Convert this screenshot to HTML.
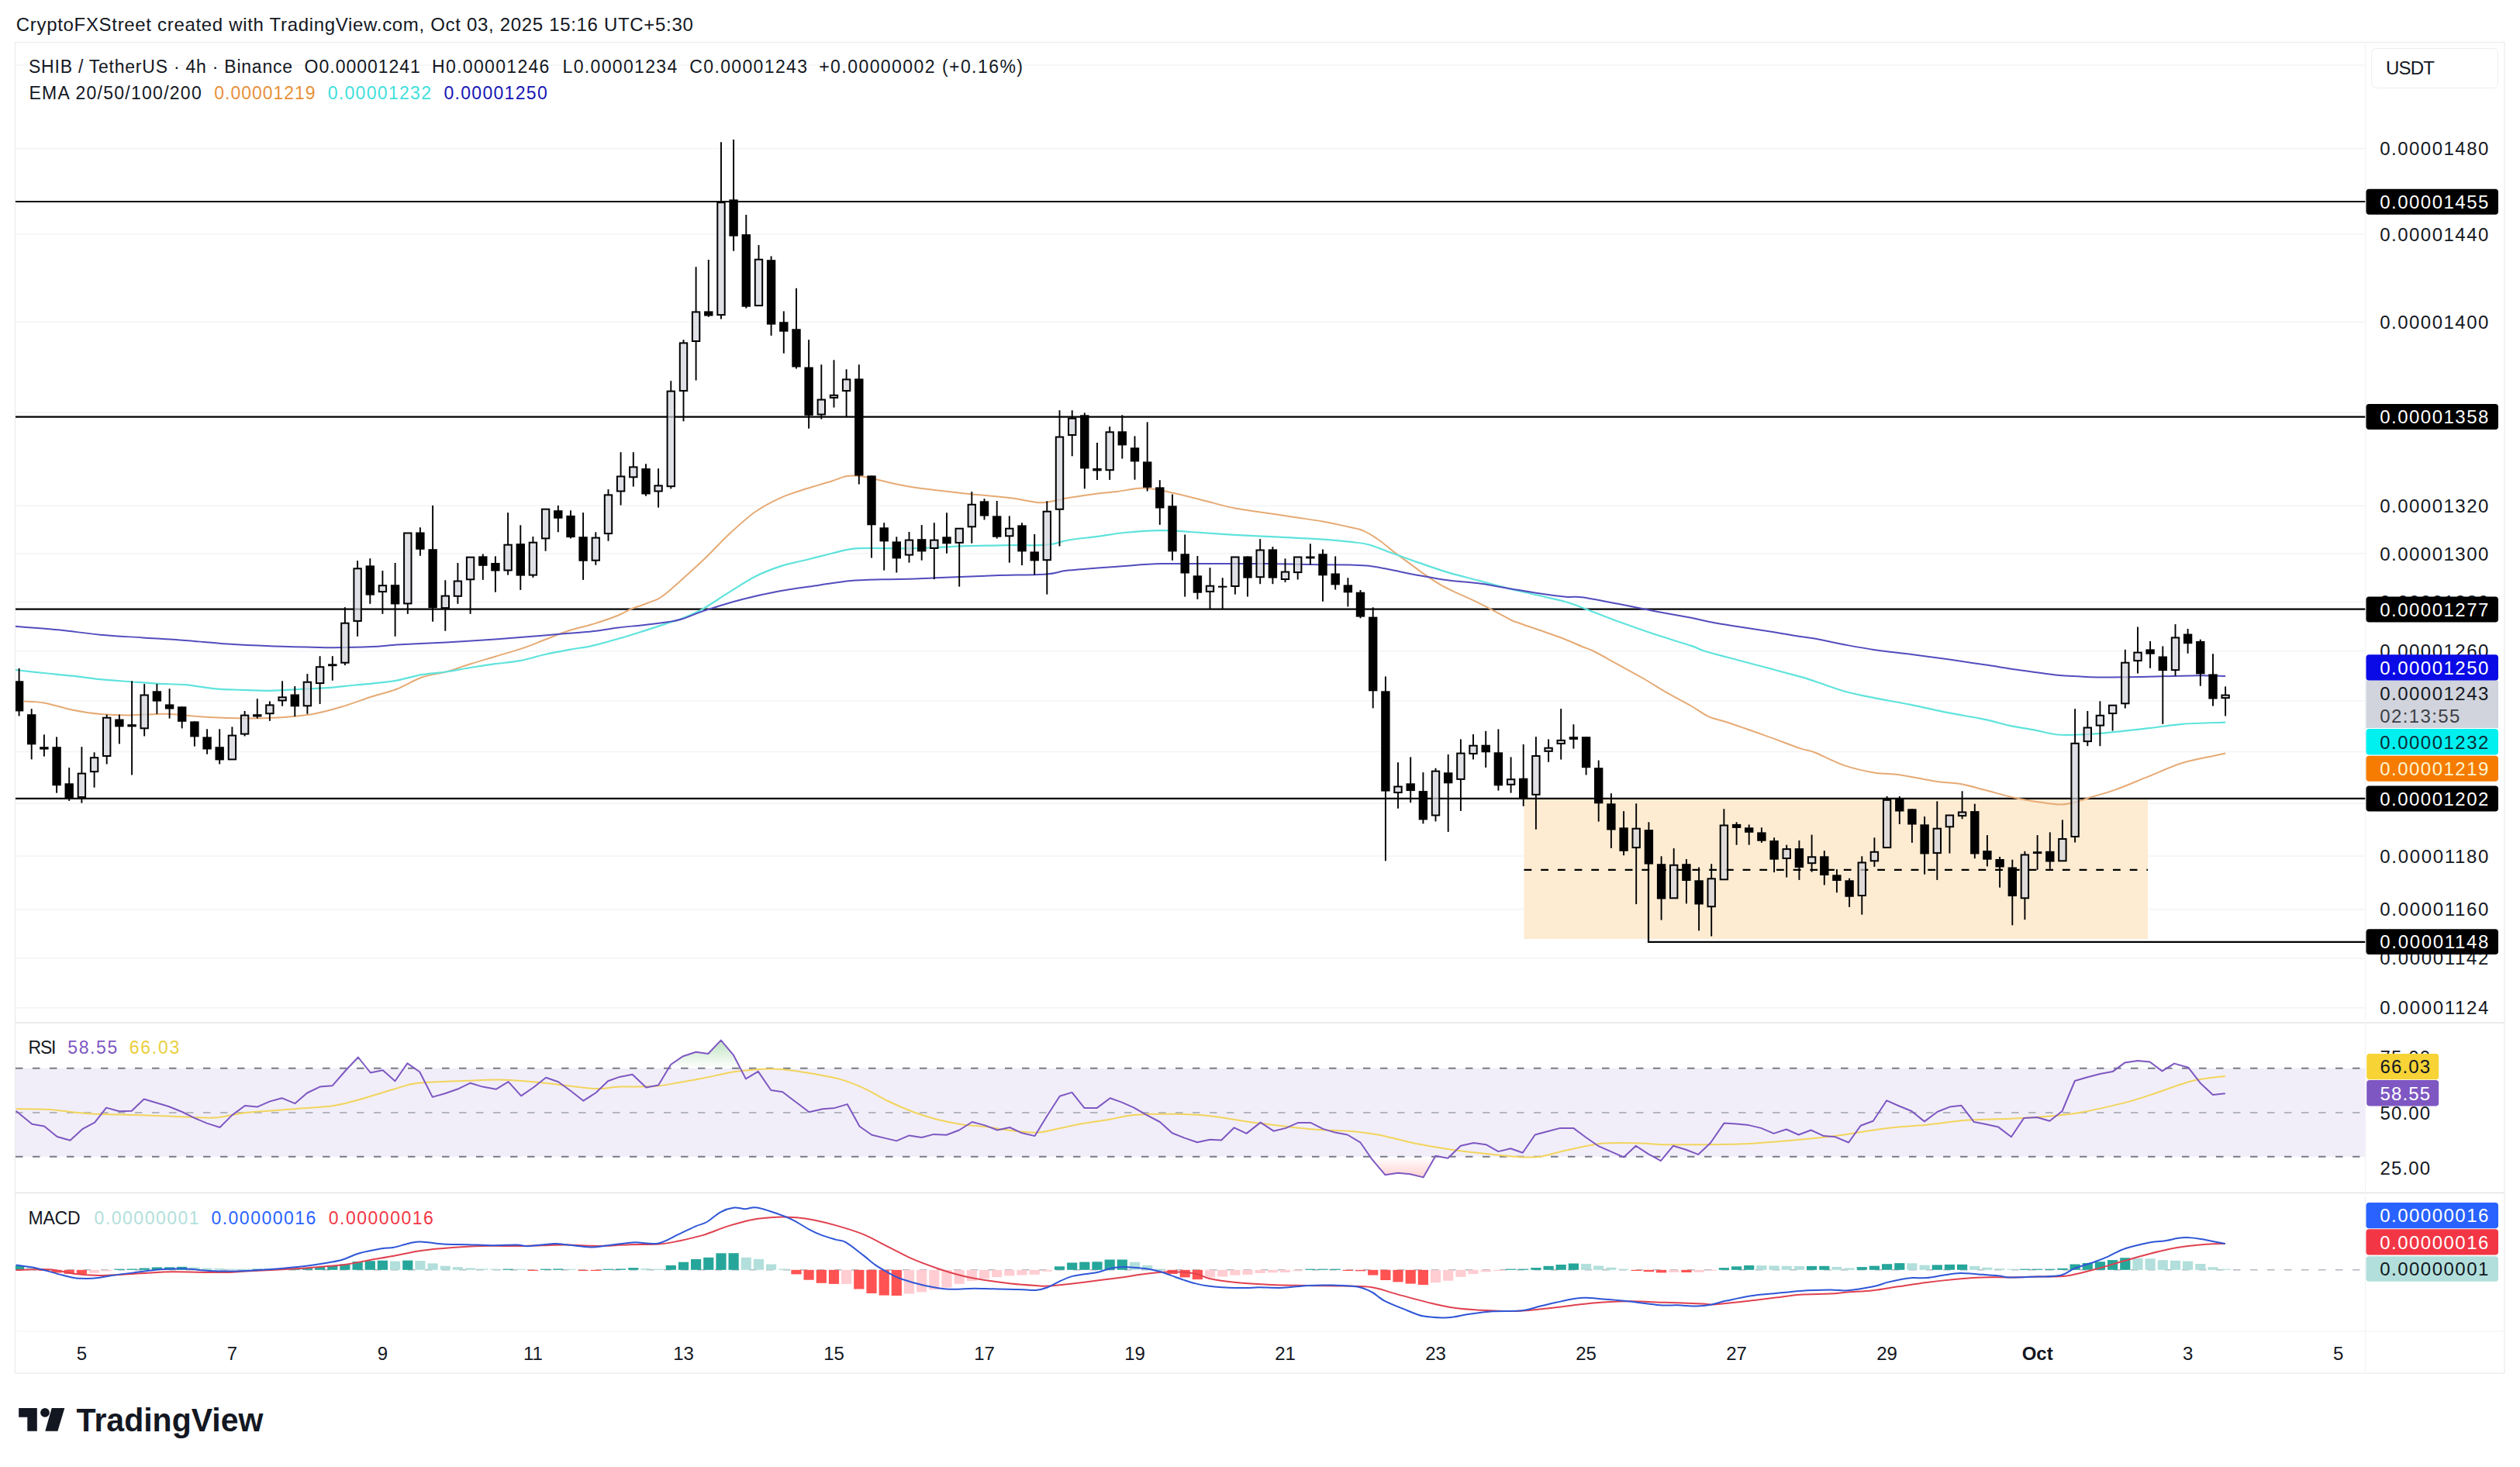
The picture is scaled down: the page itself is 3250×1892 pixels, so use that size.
<!DOCTYPE html>
<html><head><meta charset="utf-8"><style>
html,body{margin:0;padding:0;background:#fff;}
body{width:3250px;height:1892px;overflow:hidden;font-family:"Liberation Sans", sans-serif;}
svg{display:block;}
</style></head><body>
<svg width="3250" height="1892" viewBox="0 0 3250 1892" font-family='"Liberation Sans", sans-serif'>
<rect x="0" y="0" width="3250" height="1892" fill="#ffffff"/>
<defs><clipPath id="mainclip"><rect x="20" y="55" width="3030.5" height="1263"/></clipPath><clipPath id="rsiclip"><rect x="20" y="1320" width="3030.5" height="218"/></clipPath><clipPath id="macdclip"><rect x="20" y="1540" width="3030.5" height="177"/></clipPath><linearGradient id="gup" gradientUnits="userSpaceOnUse" x1="0" y1="1292" x2="0" y2="1377.8"><stop offset="0" stop-color="#4caf50" stop-opacity="0.85"/><stop offset="1" stop-color="#4caf50" stop-opacity="0"/></linearGradient><linearGradient id="gdn" gradientUnits="userSpaceOnUse" x1="0" y1="1491.8" x2="0" y2="1577.6"><stop offset="0" stop-color="#ff5252" stop-opacity="0"/><stop offset="1" stop-color="#ff5252" stop-opacity="0.85"/></linearGradient></defs>
<text x="20.8" y="40.3" font-size="24" fill="#131722" text-anchor="start" font-weight="normal" textLength="873" lengthAdjust="spacing">CryptoFXStreet created with TradingView.com, Oct 03, 2025 15:16 UTC+5:30</text>
<rect x="19.5" y="54.5" width="3210.5" height="1716.5" fill="none" stroke="#ebebed" stroke-width="1.2"/>
<line x1="20" y1="1319" x2="3230" y2="1319" stroke="#e4e4e6" stroke-width="1.5"/>
<line x1="20" y1="1538.5" x2="3230" y2="1538.5" stroke="#e4e4e6" stroke-width="1.5"/>
<line x1="20" y1="1717" x2="3230" y2="1717" stroke="#f7f7f8" stroke-width="1.5"/>
<line x1="3050.5" y1="55" x2="3050.5" y2="1771" stroke="#f2f2f4" stroke-width="1"/>
<g clip-path="url(#mainclip)">
<line x1="20" y1="84.1" x2="3050.5" y2="84.1" stroke="#f3f4f6" stroke-width="1.5"/>
<line x1="20" y1="191.5" x2="3050.5" y2="191.5" stroke="#f3f4f6" stroke-width="1.5"/>
<line x1="20" y1="301.9" x2="3050.5" y2="301.9" stroke="#f3f4f6" stroke-width="1.5"/>
<line x1="20" y1="415.3" x2="3050.5" y2="415.3" stroke="#f3f4f6" stroke-width="1.5"/>
<line x1="20" y1="532.1" x2="3050.5" y2="532.1" stroke="#f3f4f6" stroke-width="1.5"/>
<line x1="20" y1="652.3" x2="3050.5" y2="652.3" stroke="#f3f4f6" stroke-width="1.5"/>
<line x1="20" y1="713.8" x2="3050.5" y2="713.8" stroke="#f3f4f6" stroke-width="1.5"/>
<line x1="20" y1="776.3" x2="3050.5" y2="776.3" stroke="#f3f4f6" stroke-width="1.5"/>
<line x1="20" y1="839.7" x2="3050.5" y2="839.7" stroke="#f3f4f6" stroke-width="1.5"/>
<line x1="20" y1="904.1" x2="3050.5" y2="904.1" stroke="#f3f4f6" stroke-width="1.5"/>
<line x1="20" y1="969.6" x2="3050.5" y2="969.6" stroke="#f3f4f6" stroke-width="1.5"/>
<line x1="20" y1="1036.2" x2="3050.5" y2="1036.2" stroke="#f3f4f6" stroke-width="1.5"/>
<line x1="20" y1="1103.9" x2="3050.5" y2="1103.9" stroke="#f3f4f6" stroke-width="1.5"/>
<line x1="20" y1="1172.7" x2="3050.5" y2="1172.7" stroke="#f3f4f6" stroke-width="1.5"/>
<line x1="20" y1="1235.7" x2="3050.5" y2="1235.7" stroke="#f3f4f6" stroke-width="1.5"/>
<line x1="20" y1="1299.7" x2="3050.5" y2="1299.7" stroke="#f3f4f6" stroke-width="1.5"/>
<rect x="1965.5" y="1030" width="804.5" height="181" fill="#fdebd2"/>
<line x1="1965.5" y1="1121.8" x2="2770" y2="1121.8" stroke="#000" stroke-width="2.2" stroke-dasharray="9.8 11.9"/>
<line x1="20" y1="260" x2="3050.5" y2="260" stroke="#000" stroke-width="2.2"/>
<line x1="20" y1="537.6" x2="3050.5" y2="537.6" stroke="#000" stroke-width="2.2"/>
<line x1="20" y1="785.6" x2="3050.5" y2="785.6" stroke="#000" stroke-width="2.2"/>
<line x1="20" y1="1029.8" x2="3050.5" y2="1029.8" stroke="#000" stroke-width="2.2"/>
<polyline points="2126,1114 2126,1214.8 3050.5,1214.8" fill="none" stroke="#000" stroke-width="2.2"/>
<path d="M31.0,904.5 C35.2,904.8 46.2,904.6 56.5,906.4 C66.8,908.2 80.8,913.1 93.0,915.5 C105.2,917.9 117.3,919.9 129.5,921.0 C141.7,922.1 153.8,922.4 166.0,922.4 C178.2,922.4 193.4,921.2 202.5,921.0 C211.6,920.8 211.7,920.5 220.8,921.0 C229.9,921.5 245.1,923.4 257.3,924.2 C269.5,925.1 281.6,925.7 293.8,926.1 C306.0,926.5 318.1,926.6 330.3,926.4 C342.5,926.2 354.6,925.9 366.8,925.0 C379.0,924.1 391.2,923.2 403.4,921.0 C415.6,918.8 427.1,915.6 439.9,911.8 C452.7,908.0 468.0,902.1 480.0,898.3 C492.0,894.4 501.1,892.8 511.7,888.7 C522.3,884.6 532.9,877.4 543.5,873.7 C554.1,870.0 564.6,869.4 575.2,866.5 C585.8,863.6 596.4,859.5 607.0,856.2 C617.6,852.9 628.1,849.9 638.7,846.7 C649.3,843.5 662.6,839.6 670.5,837.1 C678.4,834.6 681.0,833.6 686.3,831.6 C691.6,829.6 694.2,828.2 702.2,825.2 C710.2,822.2 723.4,816.7 734.0,813.3 C744.6,809.9 755.1,807.9 765.7,804.6 C776.3,801.3 789.6,796.7 797.5,793.5 C805.4,790.3 808.0,787.9 813.3,785.6 C818.6,783.4 823.1,782.3 829.2,780.0 C835.3,777.7 844.7,774.4 849.8,771.8 C854.9,769.2 855.0,768.6 860.0,764.5 C865.0,760.4 871.8,754.4 880.0,747.0 C888.2,739.6 898.8,730.2 909.1,720.3 C919.4,710.4 930.9,697.7 941.8,687.6 C952.7,677.5 963.6,667.4 974.5,659.8 C985.4,652.2 996.3,646.7 1007.2,641.8 C1018.1,636.9 1029.1,633.8 1040.0,630.3 C1050.9,626.8 1064.0,623.2 1072.7,620.5 C1081.4,617.8 1085.5,615.0 1092.3,614.0 C1099.1,613.0 1104.6,613.4 1113.6,614.8 C1122.6,616.2 1135.2,619.9 1146.3,622.2 C1157.4,624.5 1163.6,626.3 1180.0,628.7 C1196.4,631.1 1224.2,634.2 1244.5,636.4 C1264.8,638.6 1285.9,640.1 1301.8,642.1 C1317.7,644.1 1330.4,647.6 1339.9,648.2 C1349.4,648.9 1352.6,647.0 1359.0,646.0 C1365.4,645.0 1368.5,643.7 1378.1,642.1 C1387.6,640.5 1406.0,637.7 1416.3,636.4 C1426.6,635.1 1431.3,635.2 1440.0,634.1 C1448.7,633.0 1460.6,630.3 1468.6,629.7 C1476.5,629.1 1479.8,629.6 1487.7,630.7 C1495.7,631.8 1505.2,633.9 1516.3,636.4 C1527.4,638.9 1541.8,642.8 1554.5,646.0 C1567.2,649.2 1580.0,653.0 1592.7,655.5 C1605.4,658.0 1618.1,659.3 1630.8,661.2 C1643.5,663.1 1656.3,665.1 1669.0,667.0 C1681.7,668.9 1695.4,670.6 1707.2,672.7 C1719.0,674.8 1731.4,677.7 1740.0,679.7 C1748.6,681.7 1752.7,682.0 1759.0,684.8 C1765.3,687.5 1771.8,691.8 1778.1,696.2 C1784.4,700.6 1790.8,706.5 1797.1,711.4 C1803.4,716.3 1809.8,720.7 1816.2,725.4 C1822.6,730.1 1828.9,734.9 1835.2,739.4 C1841.5,743.9 1848.0,748.3 1854.3,752.1 C1860.6,755.9 1865.9,758.6 1873.3,762.2 C1880.7,765.8 1890.7,769.9 1898.7,773.7 C1906.8,777.5 1913.1,780.7 1921.6,785.1 C1930.1,789.5 1943.0,796.8 1949.5,800.0 C1956.0,803.2 1950.8,800.7 1960.9,804.2 C1971.0,807.8 1996.8,816.4 2010.0,821.3 C2023.2,826.2 2032.4,830.6 2040.0,833.7 C2047.6,836.8 2047.9,836.1 2055.7,840.0 C2063.5,843.9 2076.6,851.5 2087.0,857.2 C2097.4,863.0 2107.9,868.5 2118.4,874.5 C2128.9,880.5 2139.4,887.3 2149.8,893.3 C2160.2,899.3 2172.0,905.3 2181.1,910.5 C2190.2,915.7 2196.8,921.1 2204.6,924.6 C2212.4,928.1 2216.3,927.8 2228.1,931.7 C2239.9,935.6 2259.5,942.5 2275.2,948.1 C2290.9,953.7 2311.4,961.7 2322.2,965.4 C2333.0,969.1 2330.5,966.5 2340.0,970.2 C2349.5,973.9 2366.1,983.0 2379.2,987.4 C2392.3,991.8 2406.7,994.8 2418.4,996.8 C2430.2,998.8 2436.6,997.4 2449.7,999.2 C2462.8,1001.0 2483.7,1005.8 2496.8,1007.8 C2509.9,1009.8 2517.7,1009.2 2528.1,1011.0 C2538.5,1012.8 2547.7,1015.8 2559.5,1018.8 C2571.3,1021.8 2586.9,1026.4 2598.7,1029.0 C2610.4,1031.6 2620.1,1033.1 2630.0,1034.5 C2639.9,1035.9 2649.9,1037.7 2658.2,1037.6 C2666.5,1037.5 2673.9,1035.2 2680.0,1033.7 C2686.1,1032.2 2686.6,1031.2 2694.5,1028.7 C2702.4,1026.2 2714.6,1023.5 2727.3,1018.9 C2740.0,1014.3 2756.4,1007.2 2770.9,1001.4 C2785.4,995.6 2799.9,988.5 2814.5,984.0 C2829.1,979.5 2848.9,976.3 2858.2,974.2 C2867.5,972.1 2868.1,972.0 2870.1,971.5" fill="none" stroke="#e6aa74" stroke-width="2" stroke-linejoin="round"/>
<path d="M20.0,864.0 C26.1,864.7 44.3,866.7 56.5,868.0 C68.7,869.3 80.8,870.3 93.0,871.7 C105.2,873.1 117.3,875.0 129.5,876.2 C141.7,877.4 153.8,878.1 166.0,879.0 C178.2,879.9 190.3,881.0 202.5,881.7 C214.7,882.4 226.9,882.1 239.1,883.2 C251.3,884.3 263.4,887.0 275.6,888.1 C287.8,889.2 299.9,889.5 312.1,889.9 C324.3,890.3 336.4,890.9 348.6,890.8 C360.8,890.6 372.9,889.6 385.1,889.0 C397.3,888.4 409.4,888.1 421.6,887.2 C433.8,886.3 448.4,884.4 458.1,883.5 C467.8,882.6 471.1,882.6 480.0,881.6 C488.9,880.6 501.1,879.5 511.7,877.6 C522.3,875.7 532.9,872.1 543.5,870.2 C554.1,868.4 564.6,868.0 575.2,866.5 C585.8,865.0 596.4,862.7 607.0,861.0 C617.6,859.3 628.1,857.7 638.7,856.2 C649.3,854.7 659.9,854.2 670.5,852.2 C681.1,850.2 691.6,846.7 702.2,844.3 C712.8,841.9 723.4,839.9 734.0,837.9 C744.6,835.9 755.1,834.8 765.7,832.4 C776.3,830.0 786.9,826.8 797.5,823.7 C808.1,820.7 818.6,817.4 829.2,814.1 C839.8,810.8 852.5,806.6 861.0,803.8 C869.5,801.0 872.5,800.5 880.0,797.5 C887.5,794.5 895.5,791.6 905.8,785.8 C916.1,780.0 930.3,770.0 941.8,762.9 C953.2,755.8 963.6,748.7 974.5,743.2 C985.4,737.7 996.3,733.6 1007.2,730.1 C1018.1,726.6 1029.1,724.7 1040.0,722.0 C1050.9,719.3 1063.2,716.1 1072.7,713.8 C1082.2,711.5 1089.0,709.2 1097.2,708.1 C1105.4,707.0 1108.0,707.0 1121.8,706.9 C1135.6,706.8 1159.5,707.7 1180.0,707.2 C1200.5,706.8 1224.2,704.9 1244.5,704.2 C1264.8,703.5 1285.9,703.4 1301.8,703.2 C1317.7,703.0 1330.4,703.5 1339.9,703.2 C1349.4,702.9 1352.6,702.4 1359.0,701.3 C1365.4,700.2 1368.5,698.1 1378.1,696.5 C1387.6,694.9 1404.3,693.4 1416.3,691.8 C1428.3,690.2 1436.5,688.3 1450.0,687.0 C1463.5,685.7 1483.1,684.3 1497.3,684.1 C1511.5,683.9 1519.5,685.0 1535.4,686.0 C1551.3,687.0 1573.6,688.7 1592.7,689.8 C1611.8,690.9 1630.8,691.7 1649.9,692.7 C1669.0,693.7 1692.2,694.6 1707.2,695.6 C1722.2,696.6 1730.3,697.6 1740.0,698.7 C1749.7,699.9 1755.9,700.0 1765.4,702.5 C1774.9,705.0 1786.5,710.2 1797.1,714.0 C1807.7,717.8 1817.2,721.4 1828.9,725.4 C1840.6,729.4 1854.3,734.3 1867.0,738.1 C1879.7,741.9 1892.4,744.9 1905.1,748.3 C1917.8,751.7 1930.5,755.2 1943.2,758.4 C1955.9,761.6 1968.6,764.3 1981.3,767.3 C1994.0,770.3 2009.6,773.5 2019.4,776.2 C2029.2,778.9 2028.7,779.3 2040.0,783.5 C2051.3,787.7 2071.3,795.8 2087.0,801.5 C2102.7,807.2 2118.4,812.8 2134.1,818.0 C2149.8,823.2 2170.6,829.4 2181.1,832.9 C2191.6,836.4 2189.0,836.7 2196.8,839.2 C2204.6,841.7 2215.0,844.3 2228.1,847.8 C2241.2,851.3 2259.5,856.1 2275.2,860.3 C2290.9,864.5 2311.4,869.9 2322.2,872.9 C2333.0,875.9 2330.5,875.4 2340.0,878.5 C2349.5,881.6 2366.1,888.1 2379.2,891.8 C2392.3,895.4 2404.0,897.5 2418.4,900.4 C2432.8,903.3 2449.7,906.0 2465.4,909.1 C2481.1,912.2 2496.7,916.1 2512.4,919.2 C2528.1,922.3 2546.4,925.1 2559.5,927.9 C2572.6,930.6 2580.4,933.5 2590.8,935.7 C2601.2,937.9 2611.8,939.2 2622.2,941.2 C2632.6,943.2 2643.9,946.5 2653.5,947.5 C2663.1,948.5 2671.3,947.7 2680.0,947.5 C2688.7,947.3 2690.2,947.6 2705.4,946.2 C2720.6,944.8 2752.7,941.3 2770.9,939.2 C2789.1,937.1 2798.0,935.1 2814.5,933.8 C2831.0,932.5 2860.8,932.0 2870.1,931.6" fill="none" stroke="#5fe3dc" stroke-width="2.2" stroke-linejoin="round"/>
<path d="M20.0,807.8 C29.1,808.5 56.5,810.5 74.8,812.3 C93.0,814.1 111.2,817.0 129.5,818.7 C147.8,820.4 166.0,821.2 184.3,822.4 C202.6,823.6 220.8,824.6 239.1,826.0 C257.4,827.4 275.6,829.4 293.8,830.6 C312.1,831.8 330.3,832.6 348.6,833.3 C366.9,834.0 389.7,834.5 403.4,834.8 C417.1,835.1 417.9,835.3 430.7,835.2 C443.5,835.1 466.5,834.6 480.0,834.0 C493.5,833.4 495.8,832.5 511.7,831.6 C527.6,830.7 554.0,829.6 575.2,828.4 C596.4,827.2 617.5,825.9 638.7,824.4 C659.9,822.9 686.3,820.7 702.2,819.4 C718.1,818.1 723.4,817.7 734.0,816.8 C744.6,815.9 755.1,815.3 765.7,814.1 C776.3,812.9 786.9,810.7 797.5,809.4 C808.1,808.1 818.6,807.4 829.2,806.2 C839.8,805.0 852.5,803.5 861.0,802.2 C869.5,800.9 872.0,800.8 880.0,798.3 C888.0,795.8 896.1,791.7 909.1,787.4 C922.1,783.1 941.9,776.9 958.2,772.7 C974.6,768.5 990.9,765.0 1007.2,762.0 C1023.6,759.0 1041.3,756.9 1056.3,754.7 C1071.3,752.5 1083.6,750.2 1097.2,749.0 C1110.8,747.8 1124.3,747.7 1138.1,747.3 C1151.9,746.9 1168.6,746.9 1180.0,746.5 C1191.4,746.1 1189.2,745.9 1206.3,745.2 C1223.4,744.5 1258.8,743.1 1282.7,742.3 C1306.6,741.5 1333.6,741.5 1349.5,740.4 C1365.4,739.3 1361.3,737.4 1378.1,735.6 C1394.8,733.9 1430.1,731.3 1450.0,729.9 C1469.9,728.5 1479.9,727.6 1497.3,727.1 C1514.7,726.6 1532.2,727.1 1554.5,727.1 C1576.8,727.1 1608.5,727.0 1630.8,727.1 C1653.1,727.2 1669.9,727.8 1688.1,728.0 C1706.3,728.2 1727.1,728.3 1740.0,728.6 C1752.9,728.9 1756.9,728.8 1765.4,729.8 C1773.9,730.8 1780.2,732.3 1790.8,734.3 C1801.4,736.3 1816.2,739.6 1828.9,741.9 C1841.6,744.2 1854.3,746.6 1867.0,748.3 C1879.7,750.0 1892.4,750.4 1905.1,752.1 C1917.8,753.8 1930.5,756.3 1943.2,758.4 C1955.9,760.5 1968.6,762.9 1981.3,764.8 C1994.0,766.7 2009.6,768.9 2019.4,769.8 C2029.2,770.7 2028.7,768.7 2040.0,770.2 C2051.3,771.7 2071.3,775.8 2087.0,778.8 C2102.7,781.8 2118.4,785.2 2134.1,788.2 C2149.8,791.2 2169.3,794.5 2181.1,796.8 C2192.8,799.1 2194.1,800.0 2204.6,802.0 C2215.1,804.0 2229.4,806.3 2243.8,808.6 C2258.2,810.9 2277.8,813.6 2290.9,815.7 C2304.0,817.8 2314.0,819.8 2322.2,821.1 C2330.4,822.4 2330.5,821.9 2340.0,823.6 C2349.5,825.3 2366.1,829.1 2379.2,831.5 C2392.3,833.9 2404.0,836.1 2418.4,838.2 C2432.8,840.3 2449.7,842.0 2465.4,844.0 C2481.1,846.0 2496.7,848.1 2512.4,850.3 C2528.1,852.5 2543.8,854.9 2559.5,857.3 C2575.2,859.6 2590.8,862.2 2606.5,864.4 C2622.2,866.6 2641.2,869.4 2653.5,870.7 C2665.8,872.0 2671.3,871.8 2680.0,872.2 C2688.7,872.7 2690.2,873.3 2705.4,873.4 C2720.6,873.5 2749.1,873.1 2770.9,872.7 C2792.7,872.3 2819.8,871.3 2836.3,871.2 C2852.8,871.1 2864.5,872.0 2870.1,872.1" fill="none" stroke="#524cbd" stroke-width="2" stroke-linejoin="round"/>
<line x1="24.6" y1="862.0" x2="24.6" y2="923.5" stroke="#000" stroke-width="1.9"/>
<rect x="18.9" y="878.3" width="11.4" height="39.1" fill="#000"/>
<line x1="40.7" y1="914.2" x2="40.7" y2="979.4" stroke="#000" stroke-width="1.9"/>
<rect x="35.0" y="921.2" width="11.4" height="39.1" fill="#000"/>
<line x1="56.9" y1="947.4" x2="56.9" y2="975.6" stroke="#000" stroke-width="1.9"/>
<rect x="51.2" y="963.2" width="11.4" height="3.4" fill="#000"/>
<line x1="73.1" y1="950.4" x2="73.1" y2="1022.7" stroke="#000" stroke-width="1.9"/>
<rect x="67.4" y="963.2" width="11.4" height="50.0" fill="#000"/>
<line x1="89.2" y1="990.0" x2="89.2" y2="1032.9" stroke="#000" stroke-width="1.9"/>
<rect x="83.5" y="1010.3" width="11.4" height="19.3" fill="#000"/>
<line x1="105.4" y1="963.2" x2="105.4" y2="997.6" stroke="#000" stroke-width="1.9"/>
<line x1="105.4" y1="1028.0" x2="105.4" y2="1035.7" stroke="#000" stroke-width="1.9"/>
<rect x="100.7" y="997.6" width="9.4" height="30.4" fill="#d1d4dc" fill-opacity="0.72" stroke="#000" stroke-width="2"/>
<line x1="121.6" y1="970.3" x2="121.6" y2="977.2" stroke="#000" stroke-width="1.9"/>
<line x1="121.6" y1="995.2" x2="121.6" y2="1015.7" stroke="#000" stroke-width="1.9"/>
<rect x="116.9" y="977.2" width="9.4" height="18.0" fill="#d1d4dc" fill-opacity="0.72" stroke="#000" stroke-width="2"/>
<line x1="137.7" y1="921.6" x2="137.7" y2="925.7" stroke="#000" stroke-width="1.9"/>
<line x1="137.7" y1="975.0" x2="137.7" y2="985.5" stroke="#000" stroke-width="1.9"/>
<rect x="133.0" y="925.7" width="9.4" height="49.3" fill="#d1d4dc" fill-opacity="0.72" stroke="#000" stroke-width="2"/>
<line x1="153.9" y1="921.6" x2="153.9" y2="959.4" stroke="#000" stroke-width="1.9"/>
<rect x="148.2" y="927.5" width="11.4" height="9.9" fill="#000"/>
<line x1="170.1" y1="878.3" x2="170.1" y2="999.5" stroke="#000" stroke-width="1.9"/>
<rect x="164.4" y="934.2" width="11.4" height="3.2" fill="#000"/>
<line x1="186.2" y1="882.1" x2="186.2" y2="896.5" stroke="#000" stroke-width="1.9"/>
<line x1="186.2" y1="939.3" x2="186.2" y2="949.5" stroke="#000" stroke-width="1.9"/>
<rect x="181.5" y="896.5" width="9.4" height="42.8" fill="#d1d4dc" fill-opacity="0.72" stroke="#000" stroke-width="2"/>
<line x1="202.4" y1="882.1" x2="202.4" y2="920.8" stroke="#000" stroke-width="1.9"/>
<rect x="196.7" y="891.3" width="11.4" height="13.3" fill="#000"/>
<line x1="218.6" y1="888.2" x2="218.6" y2="926.6" stroke="#000" stroke-width="1.9"/>
<rect x="212.9" y="908.4" width="11.4" height="6.1" fill="#000"/>
<line x1="234.7" y1="911.3" x2="234.7" y2="939.4" stroke="#000" stroke-width="1.9"/>
<rect x="229.0" y="911.3" width="11.4" height="19.5" fill="#000"/>
<line x1="250.9" y1="930.4" x2="250.9" y2="962.6" stroke="#000" stroke-width="1.9"/>
<rect x="245.2" y="930.4" width="11.4" height="20.0" fill="#000"/>
<line x1="267.1" y1="940.3" x2="267.1" y2="972.7" stroke="#000" stroke-width="1.9"/>
<rect x="261.4" y="950.4" width="11.4" height="16.1" fill="#000"/>
<line x1="283.2" y1="940.3" x2="283.2" y2="985.5" stroke="#000" stroke-width="1.9"/>
<rect x="277.5" y="963.2" width="11.4" height="17.2" fill="#000"/>
<line x1="299.4" y1="937.4" x2="299.4" y2="948.6" stroke="#000" stroke-width="1.9"/>
<rect x="294.7" y="948.6" width="9.4" height="30.8" fill="#d1d4dc" fill-opacity="0.72" stroke="#000" stroke-width="2"/>
<line x1="315.6" y1="917.0" x2="315.6" y2="922.6" stroke="#000" stroke-width="1.9"/>
<line x1="315.6" y1="946.6" x2="315.6" y2="949.5" stroke="#000" stroke-width="1.9"/>
<rect x="310.9" y="922.6" width="9.4" height="24.0" fill="#d1d4dc" fill-opacity="0.72" stroke="#000" stroke-width="2"/>
<line x1="331.8" y1="901.2" x2="331.8" y2="926.6" stroke="#000" stroke-width="1.9"/>
<rect x="326.1" y="921.2" width="11.4" height="3.3" fill="#000"/>
<line x1="347.9" y1="904.4" x2="347.9" y2="909.4" stroke="#000" stroke-width="1.9"/>
<line x1="347.9" y1="920.2" x2="347.9" y2="929.8" stroke="#000" stroke-width="1.9"/>
<rect x="343.2" y="909.4" width="9.4" height="10.8" fill="#d1d4dc" fill-opacity="0.72" stroke="#000" stroke-width="2"/>
<line x1="364.1" y1="878.3" x2="364.1" y2="899.3" stroke="#000" stroke-width="1.9"/>
<line x1="364.1" y1="903.4" x2="364.1" y2="910.7" stroke="#000" stroke-width="1.9"/>
<rect x="359.4" y="899.3" width="9.4" height="4.1" fill="#d1d4dc" fill-opacity="0.72" stroke="#000" stroke-width="2"/>
<line x1="380.3" y1="885.0" x2="380.3" y2="924.1" stroke="#000" stroke-width="1.9"/>
<rect x="374.6" y="895.5" width="11.4" height="15.8" fill="#000"/>
<line x1="396.4" y1="869.1" x2="396.4" y2="879.7" stroke="#000" stroke-width="1.9"/>
<line x1="396.4" y1="910.3" x2="396.4" y2="920.8" stroke="#000" stroke-width="1.9"/>
<rect x="391.7" y="879.7" width="9.4" height="30.6" fill="#d1d4dc" fill-opacity="0.72" stroke="#000" stroke-width="2"/>
<line x1="412.6" y1="846.2" x2="412.6" y2="860.2" stroke="#000" stroke-width="1.9"/>
<line x1="412.6" y1="881.1" x2="412.6" y2="907.9" stroke="#000" stroke-width="1.9"/>
<rect x="407.9" y="860.2" width="9.4" height="20.9" fill="#d1d4dc" fill-opacity="0.72" stroke="#000" stroke-width="2"/>
<line x1="428.8" y1="846.2" x2="428.8" y2="877.7" stroke="#000" stroke-width="1.9"/>
<rect x="423.1" y="856.3" width="11.4" height="2.9" fill="#000"/>
<line x1="444.9" y1="783.2" x2="444.9" y2="803.7" stroke="#000" stroke-width="1.9"/>
<line x1="444.9" y1="854.7" x2="444.9" y2="858.0" stroke="#000" stroke-width="1.9"/>
<rect x="440.2" y="803.7" width="9.4" height="51.0" fill="#d1d4dc" fill-opacity="0.72" stroke="#000" stroke-width="2"/>
<line x1="461.1" y1="723.1" x2="461.1" y2="733.3" stroke="#000" stroke-width="1.9"/>
<line x1="461.1" y1="800.9" x2="461.1" y2="820.8" stroke="#000" stroke-width="1.9"/>
<rect x="456.4" y="733.3" width="9.4" height="67.6" fill="#d1d4dc" fill-opacity="0.72" stroke="#000" stroke-width="2"/>
<line x1="477.3" y1="720.2" x2="477.3" y2="778.8" stroke="#000" stroke-width="1.9"/>
<rect x="471.6" y="729.4" width="11.4" height="38.2" fill="#000"/>
<line x1="493.4" y1="736.0" x2="493.4" y2="755.2" stroke="#000" stroke-width="1.9"/>
<line x1="493.4" y1="763.1" x2="493.4" y2="791.8" stroke="#000" stroke-width="1.9"/>
<rect x="488.7" y="755.2" width="9.4" height="7.9" fill="#d1d4dc" fill-opacity="0.72" stroke="#000" stroke-width="2"/>
<line x1="509.6" y1="726.0" x2="509.6" y2="820.8" stroke="#000" stroke-width="1.9"/>
<rect x="503.9" y="754.2" width="11.4" height="25.2" fill="#000"/>
<line x1="525.8" y1="778.4" x2="525.8" y2="791.8" stroke="#000" stroke-width="1.9"/>
<rect x="521.1" y="687.5" width="9.4" height="90.9" fill="#d1d4dc" fill-opacity="0.72" stroke="#000" stroke-width="2"/>
<line x1="541.9" y1="680.2" x2="541.9" y2="716.8" stroke="#000" stroke-width="1.9"/>
<rect x="536.2" y="686.5" width="11.4" height="22.3" fill="#000"/>
<line x1="558.1" y1="651.9" x2="558.1" y2="801.7" stroke="#000" stroke-width="1.9"/>
<rect x="552.4" y="708.2" width="11.4" height="76.0" fill="#000"/>
<line x1="574.3" y1="748.3" x2="574.3" y2="768.6" stroke="#000" stroke-width="1.9"/>
<line x1="574.3" y1="784.1" x2="574.3" y2="813.7" stroke="#000" stroke-width="1.9"/>
<rect x="569.6" y="768.6" width="9.4" height="15.5" fill="#d1d4dc" fill-opacity="0.72" stroke="#000" stroke-width="2"/>
<line x1="590.4" y1="726.0" x2="590.4" y2="749.5" stroke="#000" stroke-width="1.9"/>
<line x1="590.4" y1="768.8" x2="590.4" y2="778.8" stroke="#000" stroke-width="1.9"/>
<rect x="585.7" y="749.5" width="9.4" height="19.3" fill="#d1d4dc" fill-opacity="0.72" stroke="#000" stroke-width="2"/>
<line x1="606.6" y1="747.3" x2="606.6" y2="791.8" stroke="#000" stroke-width="1.9"/>
<rect x="601.9" y="718.7" width="9.4" height="28.6" fill="#d1d4dc" fill-opacity="0.72" stroke="#000" stroke-width="2"/>
<line x1="622.8" y1="714.5" x2="622.8" y2="747.9" stroke="#000" stroke-width="1.9"/>
<rect x="617.1" y="717.4" width="11.4" height="12.4" fill="#000"/>
<line x1="638.9" y1="717.4" x2="638.9" y2="763.7" stroke="#000" stroke-width="1.9"/>
<rect x="633.2" y="726.0" width="11.4" height="10.5" fill="#000"/>
<line x1="655.1" y1="661.1" x2="655.1" y2="702.7" stroke="#000" stroke-width="1.9"/>
<line x1="655.1" y1="735.5" x2="655.1" y2="741.6" stroke="#000" stroke-width="1.9"/>
<rect x="650.4" y="702.7" width="9.4" height="32.8" fill="#d1d4dc" fill-opacity="0.72" stroke="#000" stroke-width="2"/>
<line x1="671.3" y1="677.3" x2="671.3" y2="760.9" stroke="#000" stroke-width="1.9"/>
<rect x="665.6" y="701.1" width="11.4" height="41.5" fill="#000"/>
<line x1="687.4" y1="692.0" x2="687.4" y2="699.7" stroke="#000" stroke-width="1.9"/>
<line x1="687.4" y1="741.6" x2="687.4" y2="745.0" stroke="#000" stroke-width="1.9"/>
<rect x="682.7" y="699.7" width="9.4" height="41.9" fill="#d1d4dc" fill-opacity="0.72" stroke="#000" stroke-width="2"/>
<line x1="703.6" y1="694.4" x2="703.6" y2="710.7" stroke="#000" stroke-width="1.9"/>
<rect x="698.9" y="656.7" width="9.4" height="37.7" fill="#d1d4dc" fill-opacity="0.72" stroke="#000" stroke-width="2"/>
<line x1="719.8" y1="651.9" x2="719.8" y2="686.3" stroke="#000" stroke-width="1.9"/>
<rect x="714.1" y="658.2" width="11.4" height="10.5" fill="#000"/>
<line x1="736.0" y1="658.2" x2="736.0" y2="694.5" stroke="#000" stroke-width="1.9"/>
<rect x="730.3" y="664.9" width="11.4" height="28.2" fill="#000"/>
<line x1="752.1" y1="661.1" x2="752.1" y2="747.9" stroke="#000" stroke-width="1.9"/>
<rect x="746.4" y="692.2" width="11.4" height="31.5" fill="#000"/>
<line x1="768.3" y1="686.3" x2="768.3" y2="693.6" stroke="#000" stroke-width="1.9"/>
<line x1="768.3" y1="722.7" x2="768.3" y2="728.8" stroke="#000" stroke-width="1.9"/>
<rect x="763.6" y="693.6" width="9.4" height="29.1" fill="#d1d4dc" fill-opacity="0.72" stroke="#000" stroke-width="2"/>
<line x1="784.5" y1="631.1" x2="784.5" y2="638.4" stroke="#000" stroke-width="1.9"/>
<line x1="784.5" y1="688.1" x2="784.5" y2="697.7" stroke="#000" stroke-width="1.9"/>
<rect x="779.8" y="638.4" width="9.4" height="49.7" fill="#d1d4dc" fill-opacity="0.72" stroke="#000" stroke-width="2"/>
<line x1="800.6" y1="583.2" x2="800.6" y2="614.5" stroke="#000" stroke-width="1.9"/>
<line x1="800.6" y1="633.5" x2="800.6" y2="651.6" stroke="#000" stroke-width="1.9"/>
<rect x="795.9" y="614.5" width="9.4" height="19.0" fill="#d1d4dc" fill-opacity="0.72" stroke="#000" stroke-width="2"/>
<line x1="816.8" y1="583.2" x2="816.8" y2="602.4" stroke="#000" stroke-width="1.9"/>
<line x1="816.8" y1="615.3" x2="816.8" y2="627.6" stroke="#000" stroke-width="1.9"/>
<rect x="812.1" y="602.4" width="9.4" height="12.9" fill="#d1d4dc" fill-opacity="0.72" stroke="#000" stroke-width="2"/>
<line x1="833.0" y1="598.2" x2="833.0" y2="639.7" stroke="#000" stroke-width="1.9"/>
<rect x="827.3" y="604.1" width="11.4" height="33.4" fill="#000"/>
<line x1="849.1" y1="604.2" x2="849.1" y2="626.4" stroke="#000" stroke-width="1.9"/>
<line x1="849.1" y1="633.5" x2="849.1" y2="654.6" stroke="#000" stroke-width="1.9"/>
<rect x="844.4" y="626.4" width="9.4" height="7.1" fill="#d1d4dc" fill-opacity="0.72" stroke="#000" stroke-width="2"/>
<line x1="865.3" y1="491.2" x2="865.3" y2="504.6" stroke="#000" stroke-width="1.9"/>
<line x1="865.3" y1="627.2" x2="865.3" y2="630.4" stroke="#000" stroke-width="1.9"/>
<rect x="860.6" y="504.6" width="9.4" height="122.6" fill="#d1d4dc" fill-opacity="0.72" stroke="#000" stroke-width="2"/>
<line x1="881.5" y1="438.2" x2="881.5" y2="442.4" stroke="#000" stroke-width="1.9"/>
<line x1="881.5" y1="504.0" x2="881.5" y2="543.4" stroke="#000" stroke-width="1.9"/>
<rect x="876.8" y="442.4" width="9.4" height="61.6" fill="#d1d4dc" fill-opacity="0.72" stroke="#000" stroke-width="2"/>
<line x1="897.6" y1="344.2" x2="897.6" y2="402.4" stroke="#000" stroke-width="1.9"/>
<line x1="897.6" y1="440.0" x2="897.6" y2="490.6" stroke="#000" stroke-width="1.9"/>
<rect x="892.9" y="402.4" width="9.4" height="37.6" fill="#d1d4dc" fill-opacity="0.72" stroke="#000" stroke-width="2"/>
<line x1="913.8" y1="335.0" x2="913.8" y2="408.7" stroke="#000" stroke-width="1.9"/>
<rect x="908.1" y="401.4" width="11.4" height="6.1" fill="#000"/>
<line x1="930.0" y1="183.3" x2="930.0" y2="261.2" stroke="#000" stroke-width="1.9"/>
<line x1="930.0" y1="406.1" x2="930.0" y2="411.5" stroke="#000" stroke-width="1.9"/>
<rect x="925.3" y="261.2" width="9.4" height="144.9" fill="#d1d4dc" fill-opacity="0.72" stroke="#000" stroke-width="2"/>
<line x1="946.1" y1="180.0" x2="946.1" y2="323.7" stroke="#000" stroke-width="1.9"/>
<rect x="940.4" y="257.3" width="11.4" height="47.4" fill="#000"/>
<line x1="962.3" y1="277.0" x2="962.3" y2="397.6" stroke="#000" stroke-width="1.9"/>
<rect x="956.6" y="302.2" width="11.4" height="93.5" fill="#000"/>
<line x1="978.5" y1="316.1" x2="978.5" y2="334.7" stroke="#000" stroke-width="1.9"/>
<rect x="973.8" y="334.7" width="9.4" height="59.4" fill="#d1d4dc" fill-opacity="0.72" stroke="#000" stroke-width="2"/>
<line x1="994.6" y1="330.4" x2="994.6" y2="432.9" stroke="#000" stroke-width="1.9"/>
<rect x="988.9" y="335.2" width="11.4" height="83.4" fill="#000"/>
<line x1="1010.8" y1="401.4" x2="1010.8" y2="455.7" stroke="#000" stroke-width="1.9"/>
<rect x="1005.1" y="415.2" width="11.4" height="12.5" fill="#000"/>
<line x1="1027.0" y1="371.8" x2="1027.0" y2="475.4" stroke="#000" stroke-width="1.9"/>
<rect x="1021.3" y="424.3" width="11.4" height="49.2" fill="#000"/>
<line x1="1043.1" y1="438.2" x2="1043.1" y2="552.7" stroke="#000" stroke-width="1.9"/>
<rect x="1037.4" y="473.5" width="11.4" height="62.4" fill="#000"/>
<line x1="1059.3" y1="470.2" x2="1059.3" y2="515.5" stroke="#000" stroke-width="1.9"/>
<line x1="1059.3" y1="534.5" x2="1059.3" y2="540.6" stroke="#000" stroke-width="1.9"/>
<rect x="1054.6" y="515.5" width="9.4" height="19.0" fill="#d1d4dc" fill-opacity="0.72" stroke="#000" stroke-width="2"/>
<line x1="1075.5" y1="464.3" x2="1075.5" y2="509.8" stroke="#000" stroke-width="1.9"/>
<line x1="1075.5" y1="512.9" x2="1075.5" y2="525.6" stroke="#000" stroke-width="1.9"/>
<rect x="1070.8" y="509.8" width="9.4" height="3.1" fill="#d1d4dc" fill-opacity="0.72" stroke="#000" stroke-width="2"/>
<line x1="1091.6" y1="476.3" x2="1091.6" y2="489.4" stroke="#000" stroke-width="1.9"/>
<line x1="1091.6" y1="504.0" x2="1091.6" y2="537.4" stroke="#000" stroke-width="1.9"/>
<rect x="1086.9" y="489.4" width="9.4" height="14.6" fill="#d1d4dc" fill-opacity="0.72" stroke="#000" stroke-width="2"/>
<line x1="1107.8" y1="470.2" x2="1107.8" y2="624.6" stroke="#000" stroke-width="1.9"/>
<rect x="1102.1" y="488.4" width="11.4" height="125.1" fill="#000"/>
<line x1="1124.0" y1="613.4" x2="1124.0" y2="719.5" stroke="#000" stroke-width="1.9"/>
<rect x="1118.3" y="613.4" width="11.4" height="63.9" fill="#000"/>
<line x1="1140.2" y1="674.2" x2="1140.2" y2="735.6" stroke="#000" stroke-width="1.9"/>
<rect x="1134.5" y="680.3" width="11.4" height="18.1" fill="#000"/>
<line x1="1156.3" y1="692.3" x2="1156.3" y2="738.5" stroke="#000" stroke-width="1.9"/>
<rect x="1150.6" y="698.4" width="11.4" height="22.0" fill="#000"/>
<line x1="1172.5" y1="686.0" x2="1172.5" y2="696.6" stroke="#000" stroke-width="1.9"/>
<line x1="1172.5" y1="715.6" x2="1172.5" y2="725.7" stroke="#000" stroke-width="1.9"/>
<rect x="1167.8" y="696.6" width="9.4" height="19.0" fill="#d1d4dc" fill-opacity="0.72" stroke="#000" stroke-width="2"/>
<line x1="1188.7" y1="677.1" x2="1188.7" y2="722.7" stroke="#000" stroke-width="1.9"/>
<rect x="1183.0" y="695.2" width="11.4" height="16.2" fill="#000"/>
<line x1="1204.8" y1="674.2" x2="1204.8" y2="696.6" stroke="#000" stroke-width="1.9"/>
<line x1="1204.8" y1="707.0" x2="1204.8" y2="747.1" stroke="#000" stroke-width="1.9"/>
<rect x="1200.1" y="696.6" width="9.4" height="10.4" fill="#d1d4dc" fill-opacity="0.72" stroke="#000" stroke-width="2"/>
<line x1="1221.0" y1="661.2" x2="1221.0" y2="713.7" stroke="#000" stroke-width="1.9"/>
<rect x="1215.3" y="692.3" width="11.4" height="9.0" fill="#000"/>
<line x1="1237.2" y1="699.9" x2="1237.2" y2="756.6" stroke="#000" stroke-width="1.9"/>
<rect x="1232.5" y="681.7" width="9.4" height="18.2" fill="#d1d4dc" fill-opacity="0.72" stroke="#000" stroke-width="2"/>
<line x1="1253.3" y1="634.1" x2="1253.3" y2="650.8" stroke="#000" stroke-width="1.9"/>
<line x1="1253.3" y1="679.3" x2="1253.3" y2="700.7" stroke="#000" stroke-width="1.9"/>
<rect x="1248.6" y="650.8" width="9.4" height="28.5" fill="#d1d4dc" fill-opacity="0.72" stroke="#000" stroke-width="2"/>
<line x1="1269.5" y1="643.1" x2="1269.5" y2="670.4" stroke="#000" stroke-width="1.9"/>
<rect x="1263.8" y="646.3" width="11.4" height="19.3" fill="#000"/>
<line x1="1285.7" y1="646.0" x2="1285.7" y2="694.6" stroke="#000" stroke-width="1.9"/>
<rect x="1280.0" y="665.4" width="11.4" height="27.3" fill="#000"/>
<line x1="1301.8" y1="665.4" x2="1301.8" y2="681.7" stroke="#000" stroke-width="1.9"/>
<line x1="1301.8" y1="691.3" x2="1301.8" y2="725.7" stroke="#000" stroke-width="1.9"/>
<rect x="1297.1" y="681.7" width="9.4" height="9.6" fill="#d1d4dc" fill-opacity="0.72" stroke="#000" stroke-width="2"/>
<line x1="1318.0" y1="674.2" x2="1318.0" y2="729.0" stroke="#000" stroke-width="1.9"/>
<rect x="1312.3" y="677.4" width="11.4" height="34.0" fill="#000"/>
<line x1="1334.2" y1="688.9" x2="1334.2" y2="741.4" stroke="#000" stroke-width="1.9"/>
<rect x="1328.5" y="711.4" width="11.4" height="12.0" fill="#000"/>
<line x1="1350.3" y1="646.3" x2="1350.3" y2="659.7" stroke="#000" stroke-width="1.9"/>
<line x1="1350.3" y1="722.2" x2="1350.3" y2="766.6" stroke="#000" stroke-width="1.9"/>
<rect x="1345.6" y="659.7" width="9.4" height="62.5" fill="#d1d4dc" fill-opacity="0.72" stroke="#000" stroke-width="2"/>
<line x1="1366.5" y1="529.2" x2="1366.5" y2="563.6" stroke="#000" stroke-width="1.9"/>
<line x1="1366.5" y1="656.8" x2="1366.5" y2="704.5" stroke="#000" stroke-width="1.9"/>
<rect x="1361.8" y="563.6" width="9.4" height="93.2" fill="#d1d4dc" fill-opacity="0.72" stroke="#000" stroke-width="2"/>
<line x1="1382.7" y1="529.2" x2="1382.7" y2="539.7" stroke="#000" stroke-width="1.9"/>
<line x1="1382.7" y1="561.0" x2="1382.7" y2="588.3" stroke="#000" stroke-width="1.9"/>
<rect x="1378.0" y="539.7" width="9.4" height="21.3" fill="#d1d4dc" fill-opacity="0.72" stroke="#000" stroke-width="2"/>
<line x1="1398.8" y1="532.4" x2="1398.8" y2="630.3" stroke="#000" stroke-width="1.9"/>
<rect x="1393.1" y="535.3" width="11.4" height="69.1" fill="#000"/>
<line x1="1415.0" y1="571.1" x2="1415.0" y2="618.9" stroke="#000" stroke-width="1.9"/>
<rect x="1409.3" y="604.0" width="11.4" height="3.4" fill="#000"/>
<line x1="1431.2" y1="550.2" x2="1431.2" y2="557.3" stroke="#000" stroke-width="1.9"/>
<line x1="1431.2" y1="606.2" x2="1431.2" y2="618.9" stroke="#000" stroke-width="1.9"/>
<rect x="1426.5" y="557.3" width="9.4" height="48.9" fill="#d1d4dc" fill-opacity="0.72" stroke="#000" stroke-width="2"/>
<line x1="1447.3" y1="535.3" x2="1447.3" y2="591.6" stroke="#000" stroke-width="1.9"/>
<rect x="1441.6" y="556.3" width="11.4" height="18.1" fill="#000"/>
<line x1="1463.5" y1="562.4" x2="1463.5" y2="618.7" stroke="#000" stroke-width="1.9"/>
<rect x="1457.8" y="577.3" width="11.4" height="18.1" fill="#000"/>
<line x1="1479.7" y1="544.4" x2="1479.7" y2="633.5" stroke="#000" stroke-width="1.9"/>
<rect x="1474.0" y="595.4" width="11.4" height="33.4" fill="#000"/>
<line x1="1495.8" y1="619.2" x2="1495.8" y2="676.9" stroke="#000" stroke-width="1.9"/>
<rect x="1490.1" y="628.4" width="11.4" height="27.1" fill="#000"/>
<line x1="1512.0" y1="637.4" x2="1512.0" y2="722.7" stroke="#000" stroke-width="1.9"/>
<rect x="1506.3" y="652.3" width="11.4" height="59.1" fill="#000"/>
<line x1="1528.2" y1="689.5" x2="1528.2" y2="769.6" stroke="#000" stroke-width="1.9"/>
<rect x="1522.5" y="714.3" width="11.4" height="25.2" fill="#000"/>
<line x1="1544.4" y1="717.1" x2="1544.4" y2="772.9" stroke="#000" stroke-width="1.9"/>
<rect x="1538.7" y="742.3" width="11.4" height="22.4" fill="#000"/>
<line x1="1560.5" y1="732.2" x2="1560.5" y2="755.7" stroke="#000" stroke-width="1.9"/>
<line x1="1560.5" y1="762.9" x2="1560.5" y2="785.3" stroke="#000" stroke-width="1.9"/>
<rect x="1555.8" y="755.7" width="9.4" height="7.2" fill="#d1d4dc" fill-opacity="0.72" stroke="#000" stroke-width="2"/>
<line x1="1576.7" y1="745.2" x2="1576.7" y2="785.3" stroke="#000" stroke-width="1.9"/>
<rect x="1571.0" y="755.7" width="11.4" height="2.0" fill="#000"/>
<line x1="1592.9" y1="756.0" x2="1592.9" y2="766.6" stroke="#000" stroke-width="1.9"/>
<rect x="1588.2" y="718.5" width="9.4" height="37.5" fill="#d1d4dc" fill-opacity="0.72" stroke="#000" stroke-width="2"/>
<line x1="1609.0" y1="717.5" x2="1609.0" y2="769.6" stroke="#000" stroke-width="1.9"/>
<rect x="1603.3" y="717.5" width="11.4" height="28.1" fill="#000"/>
<line x1="1625.2" y1="695.2" x2="1625.2" y2="709.5" stroke="#000" stroke-width="1.9"/>
<line x1="1625.2" y1="744.2" x2="1625.2" y2="753.2" stroke="#000" stroke-width="1.9"/>
<rect x="1620.5" y="709.5" width="9.4" height="34.7" fill="#d1d4dc" fill-opacity="0.72" stroke="#000" stroke-width="2"/>
<line x1="1641.4" y1="705.1" x2="1641.4" y2="753.2" stroke="#000" stroke-width="1.9"/>
<rect x="1635.7" y="708.4" width="11.4" height="37.2" fill="#000"/>
<line x1="1657.5" y1="720.4" x2="1657.5" y2="737.6" stroke="#000" stroke-width="1.9"/>
<line x1="1657.5" y1="747.0" x2="1657.5" y2="750.9" stroke="#000" stroke-width="1.9"/>
<rect x="1652.8" y="737.6" width="9.4" height="9.4" fill="#d1d4dc" fill-opacity="0.72" stroke="#000" stroke-width="2"/>
<line x1="1673.7" y1="738.1" x2="1673.7" y2="747.5" stroke="#000" stroke-width="1.9"/>
<rect x="1669.0" y="718.5" width="9.4" height="19.6" fill="#d1d4dc" fill-opacity="0.72" stroke="#000" stroke-width="2"/>
<line x1="1689.9" y1="701.3" x2="1689.9" y2="728.4" stroke="#000" stroke-width="1.9"/>
<rect x="1684.2" y="717.5" width="11.4" height="2.9" fill="#000"/>
<line x1="1706.0" y1="708.4" x2="1706.0" y2="775.7" stroke="#000" stroke-width="1.9"/>
<rect x="1700.3" y="714.3" width="11.4" height="28.0" fill="#000"/>
<line x1="1722.2" y1="717.5" x2="1722.2" y2="760.5" stroke="#000" stroke-width="1.9"/>
<rect x="1716.5" y="739.5" width="11.4" height="14.9" fill="#000"/>
<line x1="1738.4" y1="745.2" x2="1738.4" y2="782.4" stroke="#000" stroke-width="1.9"/>
<rect x="1732.7" y="754.4" width="11.4" height="9.9" fill="#000"/>
<line x1="1754.5" y1="761.0" x2="1754.5" y2="797.3" stroke="#000" stroke-width="1.9"/>
<rect x="1748.8" y="763.7" width="11.4" height="31.9" fill="#000"/>
<line x1="1770.7" y1="783.3" x2="1770.7" y2="913.4" stroke="#000" stroke-width="1.9"/>
<rect x="1765.0" y="795.6" width="11.4" height="95.7" fill="#000"/>
<line x1="1786.9" y1="872.4" x2="1786.9" y2="1110.4" stroke="#000" stroke-width="1.9"/>
<rect x="1781.2" y="891.3" width="11.4" height="129.3" fill="#000"/>
<line x1="1803.0" y1="983.3" x2="1803.0" y2="1014.5" stroke="#000" stroke-width="1.9"/>
<line x1="1803.0" y1="1022.1" x2="1803.0" y2="1042.7" stroke="#000" stroke-width="1.9"/>
<rect x="1798.3" y="1014.5" width="9.4" height="7.6" fill="#d1d4dc" fill-opacity="0.72" stroke="#000" stroke-width="2"/>
<line x1="1819.2" y1="976.4" x2="1819.2" y2="1035.3" stroke="#000" stroke-width="1.9"/>
<rect x="1813.5" y="1010.3" width="11.4" height="9.8" fill="#000"/>
<line x1="1835.4" y1="996.1" x2="1835.4" y2="1062.3" stroke="#000" stroke-width="1.9"/>
<rect x="1829.7" y="1020.1" width="11.4" height="37.3" fill="#000"/>
<line x1="1851.5" y1="990.7" x2="1851.5" y2="994.6" stroke="#000" stroke-width="1.9"/>
<line x1="1851.5" y1="1051.5" x2="1851.5" y2="1059.4" stroke="#000" stroke-width="1.9"/>
<rect x="1846.8" y="994.6" width="9.4" height="56.9" fill="#d1d4dc" fill-opacity="0.72" stroke="#000" stroke-width="2"/>
<line x1="1867.7" y1="973.0" x2="1867.7" y2="1072.9" stroke="#000" stroke-width="1.9"/>
<rect x="1862.0" y="996.3" width="11.4" height="14.0" fill="#000"/>
<line x1="1883.9" y1="953.4" x2="1883.9" y2="971.6" stroke="#000" stroke-width="1.9"/>
<line x1="1883.9" y1="1004.9" x2="1883.9" y2="1045.9" stroke="#000" stroke-width="1.9"/>
<rect x="1879.2" y="971.6" width="9.4" height="33.3" fill="#d1d4dc" fill-opacity="0.72" stroke="#000" stroke-width="2"/>
<line x1="1900.0" y1="947.0" x2="1900.0" y2="961.7" stroke="#000" stroke-width="1.9"/>
<line x1="1900.0" y1="972.0" x2="1900.0" y2="979.6" stroke="#000" stroke-width="1.9"/>
<rect x="1895.3" y="961.7" width="9.4" height="10.3" fill="#d1d4dc" fill-opacity="0.72" stroke="#000" stroke-width="2"/>
<line x1="1916.2" y1="942.8" x2="1916.2" y2="989.9" stroke="#000" stroke-width="1.9"/>
<rect x="1910.5" y="960.7" width="11.4" height="9.6" fill="#000"/>
<line x1="1932.4" y1="940.4" x2="1932.4" y2="1019.6" stroke="#000" stroke-width="1.9"/>
<rect x="1926.7" y="970.3" width="11.4" height="43.0" fill="#000"/>
<line x1="1948.6" y1="976.4" x2="1948.6" y2="1005.2" stroke="#000" stroke-width="1.9"/>
<line x1="1948.6" y1="1011.8" x2="1948.6" y2="1022.6" stroke="#000" stroke-width="1.9"/>
<rect x="1943.9" y="1005.2" width="9.4" height="6.6" fill="#d1d4dc" fill-opacity="0.72" stroke="#000" stroke-width="2"/>
<line x1="1964.7" y1="960.0" x2="1964.7" y2="1039.8" stroke="#000" stroke-width="1.9"/>
<rect x="1959.0" y="1003.7" width="11.4" height="25.7" fill="#000"/>
<line x1="1980.9" y1="950.2" x2="1980.9" y2="975.0" stroke="#000" stroke-width="1.9"/>
<line x1="1980.9" y1="1024.8" x2="1980.9" y2="1069.7" stroke="#000" stroke-width="1.9"/>
<rect x="1976.2" y="975.0" width="9.4" height="49.8" fill="#d1d4dc" fill-opacity="0.72" stroke="#000" stroke-width="2"/>
<line x1="1997.1" y1="953.4" x2="1997.1" y2="964.7" stroke="#000" stroke-width="1.9"/>
<line x1="1997.1" y1="968.8" x2="1997.1" y2="982.8" stroke="#000" stroke-width="1.9"/>
<rect x="1992.4" y="964.7" width="9.4" height="4.1" fill="#d1d4dc" fill-opacity="0.72" stroke="#000" stroke-width="2"/>
<line x1="2013.2" y1="914.1" x2="2013.2" y2="954.9" stroke="#000" stroke-width="1.9"/>
<line x1="2013.2" y1="959.0" x2="2013.2" y2="979.6" stroke="#000" stroke-width="1.9"/>
<rect x="2008.5" y="954.9" width="9.4" height="4.1" fill="#d1d4dc" fill-opacity="0.72" stroke="#000" stroke-width="2"/>
<line x1="2029.4" y1="934.2" x2="2029.4" y2="965.6" stroke="#000" stroke-width="1.9"/>
<rect x="2023.7" y="950.2" width="11.4" height="3.7" fill="#000"/>
<line x1="2045.6" y1="950.2" x2="2045.6" y2="999.5" stroke="#000" stroke-width="1.9"/>
<rect x="2039.9" y="950.2" width="11.4" height="40.0" fill="#000"/>
<line x1="2061.7" y1="980.6" x2="2061.7" y2="1059.6" stroke="#000" stroke-width="1.9"/>
<rect x="2056.0" y="990.2" width="11.4" height="46.1" fill="#000"/>
<line x1="2077.9" y1="1023.2" x2="2077.9" y2="1093.9" stroke="#000" stroke-width="1.9"/>
<rect x="2072.2" y="1036.3" width="11.4" height="34.2" fill="#000"/>
<line x1="2094.1" y1="1046.1" x2="2094.1" y2="1103.2" stroke="#000" stroke-width="1.9"/>
<rect x="2088.4" y="1067.3" width="11.4" height="30.5" fill="#000"/>
<line x1="2110.2" y1="1036.3" x2="2110.2" y2="1068.7" stroke="#000" stroke-width="1.9"/>
<line x1="2110.2" y1="1093.1" x2="2110.2" y2="1166.1" stroke="#000" stroke-width="1.9"/>
<rect x="2105.5" y="1068.7" width="9.4" height="24.4" fill="#d1d4dc" fill-opacity="0.72" stroke="#000" stroke-width="2"/>
<line x1="2126.4" y1="1060.3" x2="2126.4" y2="1114.6" stroke="#000" stroke-width="1.9"/>
<rect x="2120.7" y="1070.1" width="11.4" height="44.5" fill="#000"/>
<line x1="2142.6" y1="1104.3" x2="2142.6" y2="1186.6" stroke="#000" stroke-width="1.9"/>
<rect x="2136.9" y="1114.2" width="11.4" height="45.3" fill="#000"/>
<line x1="2158.7" y1="1094.1" x2="2158.7" y2="1115.8" stroke="#000" stroke-width="1.9"/>
<rect x="2154.0" y="1115.8" width="9.4" height="42.5" fill="#d1d4dc" fill-opacity="0.72" stroke="#000" stroke-width="2"/>
<line x1="2174.9" y1="1108.0" x2="2174.9" y2="1165.4" stroke="#000" stroke-width="1.9"/>
<rect x="2169.2" y="1114.2" width="11.4" height="21.8" fill="#000"/>
<line x1="2191.1" y1="1118.5" x2="2191.1" y2="1200.3" stroke="#000" stroke-width="1.9"/>
<rect x="2185.4" y="1135.3" width="11.4" height="31.2" fill="#000"/>
<line x1="2207.2" y1="1114.2" x2="2207.2" y2="1133.3" stroke="#000" stroke-width="1.9"/>
<line x1="2207.2" y1="1169.2" x2="2207.2" y2="1207.5" stroke="#000" stroke-width="1.9"/>
<rect x="2202.5" y="1133.3" width="9.4" height="35.9" fill="#d1d4dc" fill-opacity="0.72" stroke="#000" stroke-width="2"/>
<line x1="2223.4" y1="1043.3" x2="2223.4" y2="1064.5" stroke="#000" stroke-width="1.9"/>
<rect x="2218.7" y="1064.5" width="9.4" height="69.8" fill="#d1d4dc" fill-opacity="0.72" stroke="#000" stroke-width="2"/>
<line x1="2239.6" y1="1060.3" x2="2239.6" y2="1089.7" stroke="#000" stroke-width="1.9"/>
<rect x="2233.9" y="1062.9" width="11.4" height="5.0" fill="#000"/>
<line x1="2255.7" y1="1063.5" x2="2255.7" y2="1089.7" stroke="#000" stroke-width="1.9"/>
<rect x="2250.0" y="1067.3" width="11.4" height="6.5" fill="#000"/>
<line x1="2271.9" y1="1067.3" x2="2271.9" y2="1086.9" stroke="#000" stroke-width="1.9"/>
<rect x="2266.2" y="1073.4" width="11.4" height="11.3" fill="#000"/>
<line x1="2288.1" y1="1080.3" x2="2288.1" y2="1125.1" stroke="#000" stroke-width="1.9"/>
<rect x="2282.4" y="1084.0" width="11.4" height="24.7" fill="#000"/>
<line x1="2304.2" y1="1089.7" x2="2304.2" y2="1095.1" stroke="#000" stroke-width="1.9"/>
<line x1="2304.2" y1="1107.0" x2="2304.2" y2="1131.6" stroke="#000" stroke-width="1.9"/>
<rect x="2299.5" y="1095.1" width="9.4" height="11.9" fill="#d1d4dc" fill-opacity="0.72" stroke="#000" stroke-width="2"/>
<line x1="2320.4" y1="1084.0" x2="2320.4" y2="1134.9" stroke="#000" stroke-width="1.9"/>
<rect x="2314.7" y="1094.1" width="11.4" height="24.9" fill="#000"/>
<line x1="2336.6" y1="1076.6" x2="2336.6" y2="1105.3" stroke="#000" stroke-width="1.9"/>
<line x1="2336.6" y1="1113.2" x2="2336.6" y2="1124.6" stroke="#000" stroke-width="1.9"/>
<rect x="2331.9" y="1105.3" width="9.4" height="7.9" fill="#d1d4dc" fill-opacity="0.72" stroke="#000" stroke-width="2"/>
<line x1="2352.8" y1="1097.1" x2="2352.8" y2="1141.4" stroke="#000" stroke-width="1.9"/>
<rect x="2347.1" y="1104.3" width="11.4" height="24.7" fill="#000"/>
<line x1="2368.9" y1="1121.1" x2="2368.9" y2="1151.2" stroke="#000" stroke-width="1.9"/>
<rect x="2363.2" y="1128.3" width="11.4" height="7.7" fill="#000"/>
<line x1="2385.1" y1="1132.7" x2="2385.1" y2="1169.8" stroke="#000" stroke-width="1.9"/>
<rect x="2379.4" y="1135.3" width="11.4" height="21.4" fill="#000"/>
<line x1="2401.3" y1="1104.3" x2="2401.3" y2="1112.5" stroke="#000" stroke-width="1.9"/>
<line x1="2401.3" y1="1155.0" x2="2401.3" y2="1179.6" stroke="#000" stroke-width="1.9"/>
<rect x="2396.6" y="1112.5" width="9.4" height="42.5" fill="#d1d4dc" fill-opacity="0.72" stroke="#000" stroke-width="2"/>
<line x1="2417.4" y1="1080.3" x2="2417.4" y2="1098.8" stroke="#000" stroke-width="1.9"/>
<line x1="2417.4" y1="1110.3" x2="2417.4" y2="1117.9" stroke="#000" stroke-width="1.9"/>
<rect x="2412.7" y="1098.8" width="9.4" height="11.5" fill="#d1d4dc" fill-opacity="0.72" stroke="#000" stroke-width="2"/>
<line x1="2433.6" y1="1026.9" x2="2433.6" y2="1031.8" stroke="#000" stroke-width="1.9"/>
<rect x="2428.9" y="1031.8" width="9.4" height="61.3" fill="#d1d4dc" fill-opacity="0.72" stroke="#000" stroke-width="2"/>
<line x1="2449.8" y1="1026.9" x2="2449.8" y2="1062.9" stroke="#000" stroke-width="1.9"/>
<rect x="2444.1" y="1029.7" width="11.4" height="16.8" fill="#000"/>
<line x1="2465.9" y1="1043.3" x2="2465.9" y2="1086.9" stroke="#000" stroke-width="1.9"/>
<rect x="2460.2" y="1043.3" width="11.4" height="20.2" fill="#000"/>
<line x1="2482.1" y1="1053.1" x2="2482.1" y2="1127.7" stroke="#000" stroke-width="1.9"/>
<rect x="2476.4" y="1063.3" width="11.4" height="38.2" fill="#000"/>
<line x1="2498.3" y1="1033.4" x2="2498.3" y2="1068.7" stroke="#000" stroke-width="1.9"/>
<line x1="2498.3" y1="1100.1" x2="2498.3" y2="1134.9" stroke="#000" stroke-width="1.9"/>
<rect x="2493.6" y="1068.7" width="9.4" height="31.4" fill="#d1d4dc" fill-opacity="0.72" stroke="#000" stroke-width="2"/>
<line x1="2514.4" y1="1066.3" x2="2514.4" y2="1100.6" stroke="#000" stroke-width="1.9"/>
<rect x="2509.7" y="1051.5" width="9.4" height="14.8" fill="#d1d4dc" fill-opacity="0.72" stroke="#000" stroke-width="2"/>
<line x1="2530.6" y1="1020.3" x2="2530.6" y2="1047.5" stroke="#000" stroke-width="1.9"/>
<line x1="2530.6" y1="1052.1" x2="2530.6" y2="1056.3" stroke="#000" stroke-width="1.9"/>
<rect x="2525.9" y="1047.5" width="9.4" height="4.6" fill="#d1d4dc" fill-opacity="0.72" stroke="#000" stroke-width="2"/>
<line x1="2546.8" y1="1036.7" x2="2546.8" y2="1107.2" stroke="#000" stroke-width="1.9"/>
<rect x="2541.1" y="1046.1" width="11.4" height="55.4" fill="#000"/>
<line x1="2562.9" y1="1077.1" x2="2562.9" y2="1117.4" stroke="#000" stroke-width="1.9"/>
<rect x="2557.2" y="1097.1" width="11.4" height="11.6" fill="#000"/>
<line x1="2579.1" y1="1105.0" x2="2579.1" y2="1144.7" stroke="#000" stroke-width="1.9"/>
<rect x="2573.4" y="1108.0" width="11.4" height="10.5" fill="#000"/>
<line x1="2595.3" y1="1108.7" x2="2595.3" y2="1193.3" stroke="#000" stroke-width="1.9"/>
<rect x="2589.6" y="1118.5" width="11.4" height="37.5" fill="#000"/>
<line x1="2611.4" y1="1097.8" x2="2611.4" y2="1102.5" stroke="#000" stroke-width="1.9"/>
<line x1="2611.4" y1="1158.3" x2="2611.4" y2="1186.1" stroke="#000" stroke-width="1.9"/>
<rect x="2606.7" y="1102.5" width="9.4" height="55.8" fill="#d1d4dc" fill-opacity="0.72" stroke="#000" stroke-width="2"/>
<line x1="2627.6" y1="1077.1" x2="2627.6" y2="1099.2" stroke="#000" stroke-width="1.9"/>
<line x1="2627.6" y1="1100.1" x2="2627.6" y2="1121.8" stroke="#000" stroke-width="1.9"/>
<rect x="2622.9" y="1099.2" width="9.4" height="0.9" fill="#d1d4dc" fill-opacity="0.72" stroke="#000" stroke-width="2"/>
<line x1="2643.8" y1="1073.4" x2="2643.8" y2="1120.7" stroke="#000" stroke-width="1.9"/>
<rect x="2638.1" y="1097.8" width="11.4" height="13.7" fill="#000"/>
<line x1="2659.9" y1="1057.4" x2="2659.9" y2="1082.0" stroke="#000" stroke-width="1.9"/>
<rect x="2655.2" y="1082.0" width="9.4" height="28.3" fill="#d1d4dc" fill-opacity="0.72" stroke="#000" stroke-width="2"/>
<line x1="2676.1" y1="914.2" x2="2676.1" y2="958.8" stroke="#000" stroke-width="1.9"/>
<line x1="2676.1" y1="1079.0" x2="2676.1" y2="1086.5" stroke="#000" stroke-width="1.9"/>
<rect x="2671.4" y="958.8" width="9.4" height="120.2" fill="#d1d4dc" fill-opacity="0.72" stroke="#000" stroke-width="2"/>
<line x1="2692.3" y1="917.0" x2="2692.3" y2="938.5" stroke="#000" stroke-width="1.9"/>
<line x1="2692.3" y1="956.1" x2="2692.3" y2="962.2" stroke="#000" stroke-width="1.9"/>
<rect x="2687.6" y="938.5" width="9.4" height="17.6" fill="#d1d4dc" fill-opacity="0.72" stroke="#000" stroke-width="2"/>
<line x1="2708.4" y1="904.3" x2="2708.4" y2="922.8" stroke="#000" stroke-width="1.9"/>
<line x1="2708.4" y1="935.6" x2="2708.4" y2="962.2" stroke="#000" stroke-width="1.9"/>
<rect x="2703.7" y="922.8" width="9.4" height="12.8" fill="#d1d4dc" fill-opacity="0.72" stroke="#000" stroke-width="2"/>
<line x1="2724.6" y1="920.1" x2="2724.6" y2="942.5" stroke="#000" stroke-width="1.9"/>
<rect x="2719.9" y="909.7" width="9.4" height="10.4" fill="#d1d4dc" fill-opacity="0.72" stroke="#000" stroke-width="2"/>
<line x1="2740.8" y1="837.8" x2="2740.8" y2="854.7" stroke="#000" stroke-width="1.9"/>
<line x1="2740.8" y1="907.3" x2="2740.8" y2="913.5" stroke="#000" stroke-width="1.9"/>
<rect x="2736.1" y="854.7" width="9.4" height="52.6" fill="#d1d4dc" fill-opacity="0.72" stroke="#000" stroke-width="2"/>
<line x1="2757.0" y1="808.4" x2="2757.0" y2="841.6" stroke="#000" stroke-width="1.9"/>
<line x1="2757.0" y1="852.1" x2="2757.0" y2="868.4" stroke="#000" stroke-width="1.9"/>
<rect x="2752.3" y="841.6" width="9.4" height="10.5" fill="#d1d4dc" fill-opacity="0.72" stroke="#000" stroke-width="2"/>
<line x1="2773.1" y1="826.9" x2="2773.1" y2="861.8" stroke="#000" stroke-width="1.9"/>
<rect x="2767.4" y="837.4" width="11.4" height="6.3" fill="#000"/>
<line x1="2789.3" y1="833.4" x2="2789.3" y2="933.8" stroke="#000" stroke-width="1.9"/>
<rect x="2783.6" y="846.5" width="11.4" height="18.6" fill="#000"/>
<line x1="2805.5" y1="805.1" x2="2805.5" y2="822.4" stroke="#000" stroke-width="1.9"/>
<line x1="2805.5" y1="864.1" x2="2805.5" y2="871.6" stroke="#000" stroke-width="1.9"/>
<rect x="2800.8" y="822.4" width="9.4" height="41.7" fill="#d1d4dc" fill-opacity="0.72" stroke="#000" stroke-width="2"/>
<line x1="2821.6" y1="811.0" x2="2821.6" y2="842.8" stroke="#000" stroke-width="1.9"/>
<rect x="2815.9" y="817.5" width="11.4" height="12.7" fill="#000"/>
<line x1="2837.8" y1="824.7" x2="2837.8" y2="884.7" stroke="#000" stroke-width="1.9"/>
<rect x="2832.1" y="826.9" width="11.4" height="42.5" fill="#000"/>
<line x1="2854.0" y1="843.3" x2="2854.0" y2="910.5" stroke="#000" stroke-width="1.9"/>
<rect x="2848.3" y="869.4" width="11.4" height="32.1" fill="#000"/>
<line x1="2870.1" y1="885.4" x2="2870.1" y2="896.6" stroke="#000" stroke-width="1.9"/>
<line x1="2870.1" y1="900.1" x2="2870.1" y2="923.5" stroke="#000" stroke-width="1.9"/>
<rect x="2865.4" y="896.6" width="9.4" height="3.5" fill="#d1d4dc" fill-opacity="0.72" stroke="#000" stroke-width="2"/>
</g>
<text x="37" y="94" font-size="23" fill="#131722" text-anchor="start" font-weight="normal" textLength="340" lengthAdjust="spacing">SHIB / TetherUS · 4h · Binance</text>
<text x="392.6" y="94" font-size="23" fill="#131722" text-anchor="start" font-weight="normal" textLength="149.3" lengthAdjust="spacing">O0.00001241</text>
<text x="557.1" y="94" font-size="23" fill="#131722" text-anchor="start" font-weight="normal" textLength="151.3" lengthAdjust="spacing">H0.00001246</text>
<text x="725.5" y="94" font-size="23" fill="#131722" text-anchor="start" font-weight="normal" textLength="147.8" lengthAdjust="spacing">L0.00001234</text>
<text x="889.3" y="94" font-size="23" fill="#131722" text-anchor="start" font-weight="normal" textLength="151.7" lengthAdjust="spacing">C0.00001243</text>
<text x="1056.2" y="94" font-size="23" fill="#131722" text-anchor="start" font-weight="normal" textLength="262.8" lengthAdjust="spacing">+0.00000002 (+0.16%)</text>
<text x="37.5" y="127.7" font-size="23" fill="#131722" text-anchor="start" font-weight="normal" textLength="222.2" lengthAdjust="spacing">EMA 20/50/100/200</text>
<text x="276.3" y="127.7" font-size="23" fill="#e8903a" text-anchor="start" font-weight="normal" textLength="130.2" lengthAdjust="spacing">0.00001219</text>
<text x="422.7" y="127.7" font-size="23" fill="#3fe0dc" text-anchor="start" font-weight="normal" textLength="133.3" lengthAdjust="spacing">0.00001232</text>
<text x="572.4" y="127.7" font-size="23" fill="#1414b4" text-anchor="start" font-weight="normal" textLength="133.3" lengthAdjust="spacing">0.00001250</text>
<rect x="3058.5" y="62.5" width="163" height="51" rx="6" fill="#ffffff" stroke="#eceef2" stroke-width="1"/>
<text x="3076.9" y="96" font-size="24" fill="#131722" text-anchor="start" font-weight="normal" textLength="63" lengthAdjust="spacing">USDT</text>
<text x="3069.3" y="200.19844658692745" font-size="24" fill="#131722" text-anchor="start" font-weight="normal" textLength="140" lengthAdjust="spacing">0.00001480</text>
<text x="3069.3" y="310.55473885033206" font-size="24" fill="#131722" text-anchor="start" font-weight="normal" textLength="140" lengthAdjust="spacing">0.00001440</text>
<text x="3069.3" y="424.0200646143123" font-size="24" fill="#131722" text-anchor="start" font-weight="normal" textLength="140" lengthAdjust="spacing">0.00001400</text>
<text x="3069.3" y="661.0150474510331" font-size="24" fill="#131722" text-anchor="start" font-weight="normal" textLength="140" lengthAdjust="spacing">0.00001320</text>
<text x="3069.3" y="722.5086495479911" font-size="24" fill="#131722" text-anchor="start" font-weight="normal" textLength="140" lengthAdjust="spacing">0.00001300</text>
<text x="3069.3" y="784.9556787295289" font-size="24" fill="#131722" text-anchor="start" font-weight="normal" textLength="140" lengthAdjust="spacing">0.00001280</text>
<text x="3069.3" y="848.386166028514" font-size="24" fill="#131722" text-anchor="start" font-weight="normal" textLength="140" lengthAdjust="spacing">0.00001260</text>
<text x="3069.3" y="1112.5957976734128" font-size="24" fill="#131722" text-anchor="start" font-weight="normal" textLength="140" lengthAdjust="spacing">0.00001180</text>
<text x="3069.3" y="1181.447947791304" font-size="24" fill="#131722" text-anchor="start" font-weight="normal" textLength="140" lengthAdjust="spacing">0.00001160</text>
<text x="3069.3" y="1244.4375448594285" font-size="24" fill="#131722" text-anchor="start" font-weight="normal" textLength="140" lengthAdjust="spacing">0.00001142</text>
<text x="3069.3" y="1308.4279010379826" font-size="24" fill="#131722" text-anchor="start" font-weight="normal" textLength="140" lengthAdjust="spacing">0.00001124</text>
<rect x="3051.5" y="243.7" width="170.5" height="33.0" rx="4" fill="#000"/>
<text x="3069.3" y="268.9" font-size="24" fill="#fff" text-anchor="start" font-weight="normal" textLength="140" lengthAdjust="spacing">0.00001455</text>
<rect x="3051.5" y="521" width="170.5" height="33" rx="4" fill="#000"/>
<text x="3069.3" y="546.2" font-size="24" fill="#fff" text-anchor="start" font-weight="normal" textLength="140" lengthAdjust="spacing">0.00001358</text>
<rect x="3051.5" y="769.4" width="170.5" height="33.10000000000002" rx="4" fill="#000"/>
<text x="3069.3" y="794.6500000000001" font-size="24" fill="#fff" text-anchor="start" font-weight="normal" textLength="140" lengthAdjust="spacing">0.00001277</text>
<rect x="3051.5" y="844.3" width="170.5" height="33.40000000000009" rx="4" fill="#0a0ae6"/>
<text x="3069.3" y="869.7" font-size="24" fill="#fff" text-anchor="start" font-weight="normal" textLength="140" lengthAdjust="spacing">0.00001250</text>
<rect x="3051.5" y="877.7" width="170.5" height="61.3" fill="#d1d4dc"/>
<text x="3069.3" y="902.6" font-size="24" fill="#131722" text-anchor="start" font-weight="normal" textLength="140" lengthAdjust="spacing">0.00001243</text>
<text x="3069.3" y="931.5" font-size="24" fill="#3d3f46" text-anchor="start" font-weight="normal" textLength="103" lengthAdjust="spacing">02:13:55</text>
<rect x="3051.5" y="940" width="170.5" height="33.60000000000002" rx="4" fill="#00f0f0"/>
<text x="3069.3" y="965.5" font-size="24" fill="#0b2b33" text-anchor="start" font-weight="normal" textLength="140" lengthAdjust="spacing">0.00001232</text>
<rect x="3051.5" y="974.8" width="170.5" height="33.0" rx="4" fill="#f57c00"/>
<text x="3069.3" y="1000.0" font-size="24" fill="#fff4cf" text-anchor="start" font-weight="normal" textLength="140" lengthAdjust="spacing">0.00001219</text>
<rect x="3051.5" y="1013.5" width="170.5" height="32.90000000000009" rx="4" fill="#000"/>
<text x="3069.3" y="1038.65" font-size="24" fill="#fff" text-anchor="start" font-weight="normal" textLength="140" lengthAdjust="spacing">0.00001202</text>
<rect x="3051.5" y="1198.2" width="170.5" height="32.899999999999864" rx="4" fill="#000"/>
<text x="3069.3" y="1223.3500000000001" font-size="24" fill="#fff" text-anchor="start" font-weight="normal" textLength="140" lengthAdjust="spacing">0.00001148</text>
<rect x="20" y="1377.8" width="3030.5" height="114.0" fill="#f1eef9"/>
<g clip-path="url(#rsiclip)">
<polygon points="448.4,1377.8 461.9,1363.5 473.3,1377.8" fill="url(#gup)"/>
<polygon points="521.0,1377.8 525.4,1371.4 534.6,1377.8" fill="url(#gup)"/>
<polygon points="862.2,1377.8 865.1,1373.0 881.0,1362.2 897.5,1356.8 913.3,1359.0 929.8,1341.6 945.7,1360.3 954.8,1377.8" fill="url(#gup)"/>
<polygon points="2730.4,1377.8 2740.2,1370.6 2757.1,1368.0 2772.6,1369.5 2783.7,1377.8" fill="url(#gup)"/>
<polygon points="2794.2,1377.8 2804.1,1371.6 2822.1,1376.7 2823.0,1377.8" fill="url(#gup)"/>
<polygon points="1767.1,1491.8 1769.5,1495.2 1786.3,1515.2 1802.9,1512.7 1818.7,1514.3 1835.6,1518.4 1850.8,1491.8" fill="url(#gdn)"/>
<polygon points="1856.9,1491.8 1867.3,1493.7 1869.3,1491.8" fill="url(#gdn)"/>
<polygon points="2092.6,1491.8 2094.0,1492.4 2094.6,1491.8" fill="url(#gdn)"/>
<polygon points="2132.3,1491.8 2141.9,1497.1 2146.3,1491.8" fill="url(#gdn)"/>
<line x1="20" y1="1377.8" x2="3046" y2="1377.8" stroke="#787b86" stroke-width="2" stroke-dasharray="9.5 12.5"/>
<line x1="20" y1="1434.9" x2="3046" y2="1434.9" stroke="#b4b6be" stroke-width="2" stroke-dasharray="9.5 12.5"/>
<line x1="20" y1="1491.8" x2="3046" y2="1491.8" stroke="#787b86" stroke-width="2" stroke-dasharray="9.5 12.5"/>
<path d="M20.6,1430.2 C27.8,1430.3 48.4,1430.1 63.5,1431.1 C78.6,1432.0 92.6,1434.7 111.1,1435.9 C129.6,1437.1 156.1,1437.5 174.6,1438.1 C193.1,1438.7 205.3,1439.1 222.2,1439.7 C239.1,1440.3 260.3,1442.4 276.2,1441.6 C292.1,1440.8 300.0,1436.8 317.5,1434.9 C335.0,1433.0 362.5,1431.6 381.0,1430.2 C399.5,1428.8 415.4,1428.2 428.6,1426.3 C441.8,1424.4 447.1,1422.6 460.3,1419.0 C473.5,1415.4 494.7,1408.5 507.9,1404.8 C521.1,1401.1 523.8,1398.6 539.7,1396.8 C555.6,1395.0 584.7,1394.4 603.2,1393.7 C621.7,1393.0 634.9,1392.3 650.8,1392.7 C666.7,1393.1 685.2,1395.0 698.4,1396.2 C711.6,1397.4 718.6,1398.7 730.2,1400.0 C741.9,1401.3 756.7,1403.8 768.3,1404.1 C779.9,1404.4 787.5,1402.1 800.0,1401.6 C812.5,1401.1 831.0,1401.9 843.5,1401.0 C856.0,1400.1 864.6,1398.0 875.2,1396.2 C885.8,1394.5 895.4,1392.8 907.0,1390.5 C918.6,1388.2 934.5,1384.3 945.1,1382.5 C955.7,1380.7 961.0,1380.3 970.5,1379.7 C980.0,1379.1 991.6,1378.2 1002.2,1378.7 C1012.8,1379.2 1020.8,1380.4 1034.0,1382.5 C1047.2,1384.6 1068.4,1388.0 1081.6,1391.4 C1094.8,1394.9 1102.7,1398.4 1113.3,1403.2 C1123.9,1408.0 1134.5,1414.9 1145.1,1420.0 C1155.7,1425.1 1166.2,1429.7 1176.8,1433.7 C1187.4,1437.7 1198.0,1441.0 1208.6,1443.8 C1219.2,1446.5 1229.7,1448.6 1240.3,1450.2 C1250.9,1451.8 1261.5,1452.0 1272.1,1453.3 C1282.7,1454.6 1292.7,1456.9 1303.8,1458.1 C1314.9,1459.3 1328.1,1461.1 1338.7,1460.6 C1349.3,1460.1 1357.2,1456.9 1367.3,1454.9 C1377.3,1452.9 1388.4,1450.4 1399.0,1448.6 C1409.6,1446.8 1420.2,1445.5 1430.8,1443.8 C1441.4,1442.0 1449.3,1439.3 1462.5,1438.1 C1475.7,1436.9 1494.3,1436.6 1510.2,1436.8 C1526.1,1437.0 1538.9,1437.0 1557.8,1439.0 C1576.7,1441.0 1602.0,1445.8 1623.5,1448.6 C1645.0,1451.4 1665.8,1454.1 1687.0,1455.9 C1708.2,1457.8 1734.6,1458.3 1750.5,1459.7 C1766.4,1461.1 1769.0,1461.8 1782.2,1464.4 C1795.4,1467.1 1813.9,1472.4 1829.8,1475.6 C1845.7,1478.8 1861.6,1481.3 1877.5,1483.5 C1893.4,1485.7 1910.3,1487.4 1925.1,1488.9 C1939.9,1490.4 1955.7,1492.0 1966.3,1492.4 C1976.9,1492.8 1979.6,1492.9 1988.6,1491.4 C1997.6,1489.9 2007.1,1486.3 2020.3,1483.5 C2033.5,1480.7 2052.0,1476.1 2067.9,1474.6 C2083.8,1473.1 2102.4,1474.3 2115.6,1474.6 C2128.8,1474.9 2134.1,1475.9 2147.3,1476.2 C2160.5,1476.5 2179.0,1476.3 2194.9,1476.2 C2210.8,1476.1 2226.6,1476.2 2242.5,1475.6 C2258.4,1475.0 2273.9,1473.7 2290.2,1472.4 C2306.4,1471.2 2325.7,1469.5 2340.0,1468.1 C2354.3,1466.6 2361.0,1465.8 2376.1,1463.7 C2391.2,1461.6 2412.2,1457.6 2430.3,1455.4 C2448.4,1453.2 2466.4,1452.5 2484.5,1450.7 C2502.6,1448.9 2520.5,1445.9 2538.6,1444.6 C2556.7,1443.3 2574.7,1443.7 2592.8,1442.8 C2610.9,1441.9 2631.9,1440.5 2647.0,1439.2 C2662.1,1437.9 2668.0,1437.5 2683.1,1434.8 C2698.2,1432.1 2722.2,1426.7 2737.3,1422.9 C2752.4,1419.1 2758.4,1416.9 2773.4,1412.1 C2788.4,1407.3 2811.4,1398.0 2827.5,1394.0 C2843.6,1390.0 2862.8,1388.9 2869.8,1387.9" fill="none" stroke="#f2d45c" stroke-width="2" stroke-linejoin="round"/>
<polyline points="20.6,1432.7 41.3,1449.8 57.1,1452.4 73.7,1466.0 90.5,1470.8 106.3,1456.2 122.2,1447.6 137.1,1428.6 154.0,1433.3 169.8,1432.7 185.7,1417.5 201.6,1422.2 217.5,1427.0 234.9,1434.0 250.8,1441.9 266.7,1448.6 283.5,1454.0 299.4,1438.1 315.9,1426.0 331.7,1427.6 347.6,1420.6 363.5,1416.2 380.3,1423.2 396.2,1409.5 412.7,1401.6 428.6,1400.3 445.4,1381.0 461.9,1363.5 477.8,1383.5 493.7,1380.3 509.5,1394.3 525.4,1371.4 541.3,1382.5 557.8,1414.9 574.0,1410.2 589.8,1404.8 606.3,1396.8 622.2,1401.6 639.7,1404.8 655.6,1395.2 672.1,1413.3 688.3,1402.2 704.1,1389.8 720.0,1395.2 736.5,1407.3 752.4,1419.7 768.3,1409.5 784.1,1394.3 799.0,1388.9 815.6,1385.7 833.3,1402.5 849.2,1399.4 865.1,1373.0 881.0,1362.2 897.5,1356.8 913.3,1359.0 929.8,1341.6 945.7,1360.3 961.9,1391.4 977.8,1381.9 994.3,1406.0 1009.2,1408.3 1026.0,1421.0 1043.5,1434.3 1061.0,1430.2 1076.8,1428.9 1092.7,1424.1 1108.6,1452.7 1124.4,1463.8 1140.3,1467.6 1156.2,1471.4 1172.7,1464.4 1188.6,1467.0 1204.4,1462.9 1220.6,1463.8 1237.1,1457.5 1253.7,1447.0 1269.5,1451.1 1286.3,1457.5 1302.2,1454.0 1318.1,1461.3 1334.6,1465.1 1350.5,1439.0 1366.7,1413.7 1382.5,1408.9 1398.4,1428.9 1414.9,1428.9 1431.7,1416.2 1446.7,1421.6 1462.5,1428.6 1479.0,1438.1 1495.9,1447.0 1511.7,1461.3 1527.6,1467.6 1544.1,1473.3 1560.3,1469.8 1575.2,1470.5 1591.7,1454.3 1607.6,1461.9 1625.7,1447.6 1642.5,1458.7 1658.4,1454.9 1674.3,1447.9 1690.2,1447.9 1706.0,1455.9 1721.9,1460.6 1737.8,1463.5 1754.3,1473.3 1769.5,1495.2 1786.3,1515.2 1802.9,1512.7 1818.7,1514.3 1835.6,1518.4 1851.4,1490.8 1867.3,1493.7 1883.8,1477.8 1900.6,1474.0 1916.5,1476.2 1932.4,1485.1 1948.3,1481.3 1963.8,1486.7 1979.7,1463.5 1996.5,1459.0 2012.4,1454.9 2029.2,1454.9 2045.1,1466.7 2061.0,1477.8 2077.5,1485.1 2094.0,1492.4 2109.8,1477.8 2126.0,1488.3 2141.9,1497.1 2157.8,1477.8 2173.7,1482.5 2190.2,1488.9 2206.0,1474.0 2223.5,1448.6 2239.4,1449.5 2255.2,1451.1 2271.1,1454.9 2287.6,1461.9 2303.8,1456.5 2319.7,1463.5 2335.6,1457.5 2352.1,1465.1 2367.1,1466.3 2384.1,1473.5 2399.6,1451.8 2415.8,1445.7 2433.2,1419.3 2449.4,1426.5 2465.3,1433.0 2481.9,1446.4 2498.9,1433.8 2514.4,1427.6 2529.6,1425.8 2545.9,1447.1 2561.4,1450.0 2577.3,1453.6 2593.9,1466.3 2610.1,1442.1 2627.1,1441.0 2643.4,1445.7 2659.6,1433.0 2675.9,1394.0 2692.1,1389.3 2708.4,1385.0 2724.6,1382.1 2740.2,1370.6 2757.1,1368.0 2772.6,1369.5 2788.5,1381.4 2804.1,1371.6 2822.1,1376.7 2838.4,1397.6 2853.9,1412.1 2869.8,1410.3" fill="none" stroke="#7e57c2" stroke-width="2" stroke-linejoin="round"/>
</g>
<text x="36.5" y="1359.4" font-size="23" fill="#131722" text-anchor="start" font-weight="normal" textLength="36" lengthAdjust="spacing">RSI</text>
<text x="87.3" y="1359.4" font-size="23" fill="#7e57c2" text-anchor="start" font-weight="normal" textLength="64" lengthAdjust="spacing">58.55</text>
<text x="166.7" y="1359.4" font-size="23" fill="#e9cf3c" text-anchor="start" font-weight="normal" textLength="64.5" lengthAdjust="spacing">66.03</text>
<text x="3069.5" y="1372.0" font-size="24" fill="#131722" text-anchor="start" font-weight="normal" textLength="64.5" lengthAdjust="spacing">75.00</text>
<text x="3069.5" y="1443.5" font-size="24" fill="#131722" text-anchor="start" font-weight="normal" textLength="64.5" lengthAdjust="spacing">50.00</text>
<text x="3069.5" y="1514.7" font-size="24" fill="#131722" text-anchor="start" font-weight="normal" textLength="64.5" lengthAdjust="spacing">25.00</text>
<rect x="3052.2" y="1359" width="93" height="33.2" rx="4" fill="#f7d336"/>
<text x="3069.5" y="1384.3" font-size="24" fill="#131722" text-anchor="start" font-weight="normal" textLength="64.5" lengthAdjust="spacing">66.03</text>
<rect x="3052.2" y="1393" width="93" height="33.5" rx="4" fill="#7e57c2"/>
<text x="3069.5" y="1418.5" font-size="24" fill="#ffffff" text-anchor="start" font-weight="normal" textLength="64.5" lengthAdjust="spacing">58.55</text>
<g clip-path="url(#macdclip)">
<line x1="20" y1="1637.8" x2="3046" y2="1637.8" stroke="#b4b6be" stroke-width="1.6" stroke-dasharray="9.5 12.5"/>
<rect x="18.0" y="1632.2" width="13.2" height="5.6" fill="#26a69a"/>
<rect x="34.1" y="1634.8" width="13.2" height="3.0" fill="#b2dfdb"/>
<rect x="50.3" y="1637.8" width="13.2" height="1.2" fill="#ff5252"/>
<rect x="66.5" y="1637.8" width="13.2" height="3.7" fill="#ff5252"/>
<rect x="82.6" y="1637.8" width="13.2" height="5.0" fill="#ff5252"/>
<rect x="98.8" y="1637.8" width="13.2" height="5.3" fill="#ff5252"/>
<rect x="115.0" y="1637.8" width="13.2" height="3.9" fill="#ffcdd2"/>
<rect x="131.1" y="1637.8" width="13.2" height="1.6" fill="#ffcdd2"/>
<rect x="147.3" y="1636.6" width="13.2" height="1.2" fill="#26a69a"/>
<rect x="163.5" y="1636.5" width="13.2" height="1.3" fill="#26a69a"/>
<rect x="179.6" y="1635.5" width="13.2" height="2.3" fill="#26a69a"/>
<rect x="195.8" y="1634.4" width="13.2" height="3.4" fill="#26a69a"/>
<rect x="212.0" y="1634.3" width="13.2" height="3.5" fill="#26a69a"/>
<rect x="228.1" y="1633.8" width="13.2" height="4.0" fill="#26a69a"/>
<rect x="244.3" y="1634.5" width="13.2" height="3.3" fill="#b2dfdb"/>
<rect x="260.5" y="1635.6" width="13.2" height="2.2" fill="#b2dfdb"/>
<rect x="276.6" y="1635.9" width="13.2" height="1.9" fill="#b2dfdb"/>
<rect x="292.8" y="1636.6" width="13.2" height="1.2" fill="#b2dfdb"/>
<rect x="309.0" y="1636.6" width="13.2" height="1.2" fill="#b2dfdb"/>
<rect x="325.2" y="1636.6" width="13.2" height="1.2" fill="#26a69a"/>
<rect x="341.3" y="1636.6" width="13.2" height="1.2" fill="#26a69a"/>
<rect x="357.5" y="1636.4" width="13.2" height="1.4" fill="#26a69a"/>
<rect x="373.7" y="1635.6" width="13.2" height="2.2" fill="#26a69a"/>
<rect x="389.8" y="1635.3" width="13.2" height="2.5" fill="#26a69a"/>
<rect x="406.0" y="1634.0" width="13.2" height="3.8" fill="#26a69a"/>
<rect x="422.2" y="1632.9" width="13.2" height="4.9" fill="#26a69a"/>
<rect x="438.3" y="1630.4" width="13.2" height="7.4" fill="#26a69a"/>
<rect x="454.5" y="1627.1" width="13.2" height="10.7" fill="#26a69a"/>
<rect x="470.7" y="1626.2" width="13.2" height="11.6" fill="#26a69a"/>
<rect x="486.8" y="1625.7" width="13.2" height="12.1" fill="#26a69a"/>
<rect x="503.0" y="1626.6" width="13.2" height="11.2" fill="#b2dfdb"/>
<rect x="519.2" y="1625.6" width="13.2" height="12.2" fill="#26a69a"/>
<rect x="535.3" y="1626.1" width="13.2" height="11.7" fill="#b2dfdb"/>
<rect x="551.5" y="1629.4" width="13.2" height="8.4" fill="#b2dfdb"/>
<rect x="567.7" y="1632.7" width="13.2" height="5.1" fill="#b2dfdb"/>
<rect x="583.8" y="1634.1" width="13.2" height="3.7" fill="#b2dfdb"/>
<rect x="600.0" y="1635.4" width="13.2" height="2.4" fill="#b2dfdb"/>
<rect x="616.2" y="1636.4" width="13.2" height="1.4" fill="#b2dfdb"/>
<rect x="632.3" y="1636.6" width="13.2" height="1.2" fill="#b2dfdb"/>
<rect x="648.5" y="1636.6" width="13.2" height="1.2" fill="#26a69a"/>
<rect x="664.7" y="1636.6" width="13.2" height="1.2" fill="#b2dfdb"/>
<rect x="680.8" y="1637.8" width="13.2" height="1.2" fill="#ff5252"/>
<rect x="697.0" y="1636.6" width="13.2" height="1.2" fill="#26a69a"/>
<rect x="713.2" y="1636.4" width="13.2" height="1.4" fill="#26a69a"/>
<rect x="729.4" y="1636.6" width="13.2" height="1.2" fill="#b2dfdb"/>
<rect x="745.5" y="1637.8" width="13.2" height="1.2" fill="#ff5252"/>
<rect x="761.7" y="1637.8" width="13.2" height="1.2" fill="#ff5252"/>
<rect x="777.9" y="1636.6" width="13.2" height="1.2" fill="#26a69a"/>
<rect x="794.0" y="1636.4" width="13.2" height="1.4" fill="#26a69a"/>
<rect x="810.2" y="1635.1" width="13.2" height="2.7" fill="#26a69a"/>
<rect x="826.4" y="1636.0" width="13.2" height="1.8" fill="#b2dfdb"/>
<rect x="842.5" y="1636.5" width="13.2" height="1.3" fill="#b2dfdb"/>
<rect x="858.7" y="1631.9" width="13.2" height="5.9" fill="#26a69a"/>
<rect x="874.9" y="1627.7" width="13.2" height="10.1" fill="#26a69a"/>
<rect x="891.0" y="1624.0" width="13.2" height="13.8" fill="#26a69a"/>
<rect x="907.2" y="1621.8" width="13.2" height="16.0" fill="#26a69a"/>
<rect x="923.4" y="1616.3" width="13.2" height="21.5" fill="#26a69a"/>
<rect x="939.5" y="1616.2" width="13.2" height="21.6" fill="#26a69a"/>
<rect x="955.7" y="1621.8" width="13.2" height="16.0" fill="#b2dfdb"/>
<rect x="971.9" y="1623.8" width="13.2" height="14.0" fill="#b2dfdb"/>
<rect x="988.0" y="1630.5" width="13.2" height="7.3" fill="#b2dfdb"/>
<rect x="1004.2" y="1636.4" width="13.2" height="1.4" fill="#b2dfdb"/>
<rect x="1020.4" y="1637.8" width="13.2" height="5.6" fill="#ff5252"/>
<rect x="1036.5" y="1637.8" width="13.2" height="12.9" fill="#ff5252"/>
<rect x="1052.7" y="1637.8" width="13.2" height="17.0" fill="#ff5252"/>
<rect x="1068.9" y="1637.8" width="13.2" height="18.1" fill="#ff5252"/>
<rect x="1085.0" y="1637.8" width="13.2" height="18.1" fill="#ffcdd2"/>
<rect x="1101.2" y="1637.8" width="13.2" height="24.7" fill="#ff5252"/>
<rect x="1117.4" y="1637.8" width="13.2" height="30.2" fill="#ff5252"/>
<rect x="1133.6" y="1637.8" width="13.2" height="32.8" fill="#ff5252"/>
<rect x="1149.7" y="1637.8" width="13.2" height="33.2" fill="#ff5252"/>
<rect x="1165.9" y="1637.8" width="13.2" height="30.7" fill="#ffcdd2"/>
<rect x="1182.1" y="1637.8" width="13.2" height="28.6" fill="#ffcdd2"/>
<rect x="1198.2" y="1637.8" width="13.2" height="25.5" fill="#ffcdd2"/>
<rect x="1214.4" y="1637.8" width="13.2" height="22.8" fill="#ffcdd2"/>
<rect x="1230.6" y="1637.8" width="13.2" height="18.0" fill="#ffcdd2"/>
<rect x="1246.7" y="1637.8" width="13.2" height="14.1" fill="#ffcdd2"/>
<rect x="1262.9" y="1637.8" width="13.2" height="11.2" fill="#ffcdd2"/>
<rect x="1279.1" y="1637.8" width="13.2" height="9.3" fill="#ffcdd2"/>
<rect x="1295.2" y="1637.8" width="13.2" height="7.6" fill="#ffcdd2"/>
<rect x="1311.4" y="1637.8" width="13.2" height="6.7" fill="#ffcdd2"/>
<rect x="1327.6" y="1637.8" width="13.2" height="6.1" fill="#ffcdd2"/>
<rect x="1343.7" y="1637.8" width="13.2" height="1.9" fill="#ffcdd2"/>
<rect x="1359.9" y="1633.3" width="13.2" height="4.5" fill="#26a69a"/>
<rect x="1376.1" y="1628.5" width="13.2" height="9.3" fill="#26a69a"/>
<rect x="1392.2" y="1627.6" width="13.2" height="10.2" fill="#26a69a"/>
<rect x="1408.4" y="1627.3" width="13.2" height="10.5" fill="#26a69a"/>
<rect x="1424.6" y="1624.5" width="13.2" height="13.3" fill="#26a69a"/>
<rect x="1440.7" y="1624.5" width="13.2" height="13.3" fill="#26a69a"/>
<rect x="1456.9" y="1627.7" width="13.2" height="10.1" fill="#b2dfdb"/>
<rect x="1473.1" y="1631.8" width="13.2" height="6.0" fill="#b2dfdb"/>
<rect x="1489.2" y="1636.5" width="13.2" height="1.3" fill="#b2dfdb"/>
<rect x="1505.4" y="1637.8" width="13.2" height="5.2" fill="#ff5252"/>
<rect x="1521.6" y="1637.8" width="13.2" height="9.6" fill="#ff5252"/>
<rect x="1537.8" y="1637.8" width="13.2" height="12.3" fill="#ff5252"/>
<rect x="1553.9" y="1637.8" width="13.2" height="9.8" fill="#ffcdd2"/>
<rect x="1570.1" y="1637.8" width="13.2" height="8.7" fill="#ffcdd2"/>
<rect x="1586.3" y="1637.8" width="13.2" height="6.8" fill="#ffcdd2"/>
<rect x="1602.4" y="1637.8" width="13.2" height="6.1" fill="#ffcdd2"/>
<rect x="1618.6" y="1637.8" width="13.2" height="4.2" fill="#ffcdd2"/>
<rect x="1634.8" y="1637.8" width="13.2" height="3.5" fill="#ffcdd2"/>
<rect x="1650.9" y="1637.8" width="13.2" height="3.2" fill="#ffcdd2"/>
<rect x="1667.1" y="1637.8" width="13.2" height="1.5" fill="#ffcdd2"/>
<rect x="1683.3" y="1636.6" width="13.2" height="1.2" fill="#26a69a"/>
<rect x="1699.4" y="1636.6" width="13.2" height="1.2" fill="#26a69a"/>
<rect x="1715.6" y="1636.6" width="13.2" height="1.2" fill="#26a69a"/>
<rect x="1731.8" y="1637.8" width="13.2" height="1.2" fill="#ff5252"/>
<rect x="1747.9" y="1637.8" width="13.2" height="1.5" fill="#ff5252"/>
<rect x="1764.1" y="1637.8" width="13.2" height="6.8" fill="#ff5252"/>
<rect x="1780.3" y="1637.8" width="13.2" height="13.2" fill="#ff5252"/>
<rect x="1796.4" y="1637.8" width="13.2" height="15.6" fill="#ff5252"/>
<rect x="1812.6" y="1637.8" width="13.2" height="17.8" fill="#ff5252"/>
<rect x="1828.8" y="1637.8" width="13.2" height="19.3" fill="#ff5252"/>
<rect x="1844.9" y="1637.8" width="13.2" height="16.4" fill="#ffcdd2"/>
<rect x="1861.1" y="1637.8" width="13.2" height="14.0" fill="#ffcdd2"/>
<rect x="1877.3" y="1637.8" width="13.2" height="9.0" fill="#ffcdd2"/>
<rect x="1893.4" y="1637.8" width="13.2" height="5.3" fill="#ffcdd2"/>
<rect x="1909.6" y="1637.8" width="13.2" height="2.5" fill="#ffcdd2"/>
<rect x="1925.8" y="1637.8" width="13.2" height="1.2" fill="#ffcdd2"/>
<rect x="1942.0" y="1636.6" width="13.2" height="1.2" fill="#26a69a"/>
<rect x="1958.1" y="1636.6" width="13.2" height="1.2" fill="#26a69a"/>
<rect x="1974.3" y="1635.0" width="13.2" height="2.8" fill="#26a69a"/>
<rect x="1990.5" y="1632.8" width="13.2" height="5.0" fill="#26a69a"/>
<rect x="2006.6" y="1631.0" width="13.2" height="6.8" fill="#26a69a"/>
<rect x="2022.8" y="1629.5" width="13.2" height="8.3" fill="#26a69a"/>
<rect x="2039.0" y="1630.0" width="13.2" height="7.8" fill="#b2dfdb"/>
<rect x="2055.1" y="1632.5" width="13.2" height="5.3" fill="#b2dfdb"/>
<rect x="2071.3" y="1634.7" width="13.2" height="3.1" fill="#b2dfdb"/>
<rect x="2087.5" y="1636.6" width="13.2" height="1.2" fill="#b2dfdb"/>
<rect x="2103.6" y="1637.8" width="13.2" height="1.2" fill="#ff5252"/>
<rect x="2119.8" y="1637.8" width="13.2" height="2.4" fill="#ff5252"/>
<rect x="2136.0" y="1637.8" width="13.2" height="3.6" fill="#ff5252"/>
<rect x="2152.1" y="1637.8" width="13.2" height="3.1" fill="#ffcdd2"/>
<rect x="2168.3" y="1637.8" width="13.2" height="3.2" fill="#ff5252"/>
<rect x="2184.5" y="1637.8" width="13.2" height="3.0" fill="#ffcdd2"/>
<rect x="2200.6" y="1637.8" width="13.2" height="1.2" fill="#ffcdd2"/>
<rect x="2216.8" y="1635.1" width="13.2" height="2.7" fill="#26a69a"/>
<rect x="2233.0" y="1633.3" width="13.2" height="4.5" fill="#26a69a"/>
<rect x="2249.1" y="1632.0" width="13.2" height="5.8" fill="#26a69a"/>
<rect x="2265.3" y="1632.1" width="13.2" height="5.7" fill="#b2dfdb"/>
<rect x="2281.5" y="1632.4" width="13.2" height="5.4" fill="#b2dfdb"/>
<rect x="2297.6" y="1632.7" width="13.2" height="5.1" fill="#b2dfdb"/>
<rect x="2313.8" y="1633.0" width="13.2" height="4.8" fill="#b2dfdb"/>
<rect x="2330.0" y="1632.9" width="13.2" height="4.9" fill="#26a69a"/>
<rect x="2346.2" y="1632.8" width="13.2" height="5.0" fill="#26a69a"/>
<rect x="2362.3" y="1633.9" width="13.2" height="3.9" fill="#b2dfdb"/>
<rect x="2378.5" y="1635.4" width="13.2" height="2.4" fill="#b2dfdb"/>
<rect x="2394.7" y="1634.1" width="13.2" height="3.7" fill="#26a69a"/>
<rect x="2410.8" y="1632.6" width="13.2" height="5.2" fill="#26a69a"/>
<rect x="2427.0" y="1630.2" width="13.2" height="7.6" fill="#26a69a"/>
<rect x="2443.2" y="1629.1" width="13.2" height="8.7" fill="#26a69a"/>
<rect x="2459.3" y="1629.3" width="13.2" height="8.5" fill="#b2dfdb"/>
<rect x="2475.5" y="1631.6" width="13.2" height="6.2" fill="#b2dfdb"/>
<rect x="2491.7" y="1631.4" width="13.2" height="6.4" fill="#26a69a"/>
<rect x="2507.8" y="1630.9" width="13.2" height="6.9" fill="#26a69a"/>
<rect x="2524.0" y="1630.8" width="13.2" height="7.0" fill="#26a69a"/>
<rect x="2540.2" y="1632.9" width="13.2" height="4.9" fill="#b2dfdb"/>
<rect x="2556.3" y="1634.7" width="13.2" height="3.1" fill="#b2dfdb"/>
<rect x="2572.5" y="1636.1" width="13.2" height="1.7" fill="#b2dfdb"/>
<rect x="2588.7" y="1636.6" width="13.2" height="1.2" fill="#b2dfdb"/>
<rect x="2604.8" y="1636.6" width="13.2" height="1.2" fill="#26a69a"/>
<rect x="2621.0" y="1636.6" width="13.2" height="1.2" fill="#26a69a"/>
<rect x="2637.2" y="1636.6" width="13.2" height="1.2" fill="#26a69a"/>
<rect x="2653.3" y="1635.8" width="13.2" height="2.0" fill="#26a69a"/>
<rect x="2669.5" y="1630.5" width="13.2" height="7.3" fill="#26a69a"/>
<rect x="2685.7" y="1628.9" width="13.2" height="8.9" fill="#26a69a"/>
<rect x="2701.8" y="1627.2" width="13.2" height="10.6" fill="#26a69a"/>
<rect x="2718.0" y="1625.1" width="13.2" height="12.7" fill="#26a69a"/>
<rect x="2734.2" y="1622.2" width="13.2" height="15.6" fill="#26a69a"/>
<rect x="2750.4" y="1622.7" width="13.2" height="15.1" fill="#b2dfdb"/>
<rect x="2766.5" y="1623.3" width="13.2" height="14.5" fill="#b2dfdb"/>
<rect x="2782.7" y="1625.2" width="13.2" height="12.6" fill="#b2dfdb"/>
<rect x="2798.9" y="1625.8" width="13.2" height="12.0" fill="#b2dfdb"/>
<rect x="2815.0" y="1626.6" width="13.2" height="11.2" fill="#b2dfdb"/>
<rect x="2831.2" y="1630.0" width="13.2" height="7.8" fill="#b2dfdb"/>
<rect x="2847.4" y="1634.3" width="13.2" height="3.5" fill="#b2dfdb"/>
<rect x="2863.5" y="1636.6" width="13.2" height="1.2" fill="#b2dfdb"/>
<path d="M20.6,1637.9 C27.8,1637.8 51.1,1636.5 63.5,1637.3 C75.9,1638.1 84.6,1641.4 95.2,1642.7 C105.8,1644.0 116.4,1644.7 127.0,1644.9 C137.6,1645.1 148.1,1644.2 158.7,1643.7 C169.3,1643.2 179.9,1642.3 190.5,1641.7 C201.1,1641.1 206.3,1640.3 222.2,1640.2 C238.1,1640.1 269.8,1641.2 285.7,1641.1 C301.6,1641.0 306.9,1640.0 317.5,1639.5 C328.1,1639.0 338.6,1638.4 349.2,1637.9 C359.8,1637.4 370.4,1637.0 381.0,1636.3 C391.6,1635.6 402.1,1634.7 412.7,1633.8 C423.3,1632.9 433.8,1632.4 444.4,1631.0 C455.0,1629.6 465.6,1627.1 476.2,1625.2 C486.8,1623.3 497.3,1621.8 507.9,1619.8 C518.5,1617.8 529.1,1615.1 539.7,1613.5 C550.3,1611.9 560.8,1611.0 571.4,1610.0 C582.0,1609.0 592.6,1608.3 603.2,1607.8 C613.8,1607.3 624.3,1606.9 634.9,1606.8 C645.5,1606.7 656.1,1607.2 666.7,1607.1 C677.3,1607.0 687.8,1606.5 698.4,1606.2 C709.0,1606.0 719.6,1605.5 730.2,1605.6 C740.8,1605.7 753.6,1606.6 761.9,1606.8 C770.2,1607.0 771.7,1607.1 780.0,1606.8 C788.3,1606.5 800.1,1605.6 811.7,1605.2 C823.3,1604.8 839.2,1605.4 849.8,1604.6 C860.4,1603.8 865.7,1602.5 875.2,1600.5 C884.7,1598.5 896.4,1596.1 907.0,1592.9 C917.6,1589.7 928.1,1584.7 938.7,1581.4 C949.3,1578.1 959.9,1574.9 970.5,1572.9 C981.1,1571.0 992.7,1570.1 1002.2,1569.7 C1011.7,1569.3 1019.7,1569.7 1027.6,1570.3 C1035.5,1570.9 1040.8,1571.7 1049.8,1573.5 C1058.8,1575.3 1071.0,1578.3 1081.6,1581.4 C1092.2,1584.5 1102.7,1587.5 1113.3,1591.9 C1123.9,1596.3 1134.5,1602.5 1145.1,1607.8 C1155.7,1613.1 1166.2,1619.0 1176.8,1623.7 C1187.4,1628.4 1198.0,1632.1 1208.6,1635.7 C1219.2,1639.3 1229.7,1642.6 1240.3,1645.2 C1250.9,1647.8 1261.5,1649.6 1272.1,1651.3 C1282.7,1653.0 1293.2,1654.3 1303.8,1655.4 C1314.4,1656.5 1327.7,1657.4 1335.6,1657.9 C1343.5,1658.4 1343.5,1659.0 1351.4,1658.6 C1359.3,1658.2 1372.6,1656.6 1383.2,1655.4 C1393.8,1654.2 1404.3,1652.9 1414.9,1651.6 C1425.5,1650.3 1436.1,1649.0 1446.7,1647.5 C1457.3,1646.0 1467.8,1643.9 1478.4,1642.7 C1489.0,1641.5 1499.6,1640.2 1510.2,1640.2 C1520.8,1640.2 1533.6,1641.2 1541.9,1642.7 C1550.2,1644.2 1551.7,1647.2 1560.0,1649.0 C1568.3,1650.8 1578.5,1652.5 1591.7,1653.8 C1604.9,1655.1 1623.5,1656.3 1639.4,1657.0 C1655.3,1657.7 1671.1,1657.6 1687.0,1657.9 C1702.9,1658.2 1720.8,1658.2 1734.6,1658.6 C1748.3,1659.0 1758.9,1658.6 1769.5,1660.2 C1780.1,1661.8 1785.4,1664.7 1798.1,1668.1 C1810.8,1671.5 1832.5,1677.6 1845.7,1680.8 C1858.9,1684.0 1866.9,1685.6 1877.5,1687.1 C1888.1,1688.6 1896.0,1689.0 1909.2,1689.7 C1922.4,1690.4 1940.9,1691.5 1956.8,1691.0 C1972.7,1690.5 1988.5,1688.2 2004.4,1686.5 C2020.3,1684.8 2036.2,1682.2 2052.1,1680.8 C2068.0,1679.4 2083.8,1678.5 2099.7,1678.3 C2115.6,1678.1 2131.4,1679.3 2147.3,1679.8 C2163.2,1680.3 2184.3,1681.0 2194.9,1681.4 C2205.5,1681.8 2202.9,1682.8 2210.8,1682.4 C2218.7,1682.0 2229.3,1680.7 2242.5,1679.2 C2255.7,1677.7 2277.0,1675.1 2290.2,1673.5 C2303.4,1671.9 2310.3,1670.5 2321.9,1669.7 C2333.5,1668.9 2349.8,1669.0 2360.0,1668.5 C2370.2,1668.0 2374.0,1667.2 2383.3,1666.5 C2392.6,1665.8 2405.0,1665.5 2415.8,1664.3 C2426.6,1663.1 2436.9,1661.0 2448.3,1659.3 C2459.8,1657.6 2472.4,1655.5 2484.5,1653.9 C2496.6,1652.3 2508.6,1651.0 2520.6,1649.9 C2532.6,1648.8 2544.7,1647.8 2556.7,1647.4 C2568.7,1647.0 2580.8,1647.5 2592.8,1647.4 C2604.8,1647.3 2616.9,1646.9 2628.9,1646.6 C2640.9,1646.3 2653.0,1647.1 2665.0,1645.6 C2677.0,1644.0 2689.0,1640.4 2701.1,1637.3 C2713.2,1634.2 2725.2,1630.2 2737.3,1626.8 C2749.4,1623.4 2761.4,1619.7 2773.4,1616.7 C2785.4,1613.7 2797.5,1610.7 2809.5,1608.7 C2821.5,1606.7 2835.5,1605.6 2845.6,1604.8 C2855.7,1604.0 2865.8,1604.1 2869.8,1604.0" fill="none" stroke="#e0414f" stroke-width="2" stroke-linejoin="round"/>
<path d="M20.6,1631.6 C25.1,1632.3 37.8,1633.6 47.6,1635.7 C57.4,1637.8 71.5,1642.2 79.4,1644.3 C87.3,1646.4 89.9,1647.3 95.2,1648.1 C100.5,1648.9 105.8,1649.0 111.1,1649.0 C116.4,1649.0 121.7,1648.7 127.0,1648.1 C132.3,1647.5 135.0,1646.4 142.9,1645.2 C150.8,1644.0 164.0,1642.4 174.6,1641.1 C185.2,1639.8 195.7,1638.1 206.3,1637.3 C216.9,1636.5 227.5,1636.0 238.1,1636.3 C248.7,1636.6 259.2,1638.4 269.8,1638.9 C280.4,1639.4 291.0,1639.7 301.6,1639.5 C312.2,1639.3 322.7,1638.5 333.3,1637.9 C343.9,1637.3 354.5,1636.6 365.1,1635.7 C375.7,1634.8 386.2,1633.9 396.8,1632.5 C407.4,1631.1 420.7,1629.0 428.6,1627.5 C436.5,1626.0 438.6,1625.6 444.4,1623.7 C450.2,1621.8 455.6,1618.5 463.5,1616.3 C471.4,1614.1 484.7,1611.6 492.1,1610.3 C499.5,1609.0 502.1,1609.8 507.9,1608.7 C513.7,1607.6 521.2,1604.9 527.0,1603.7 C532.8,1602.5 535.5,1601.2 542.9,1601.4 C550.3,1601.6 561.3,1604.0 571.4,1604.6 C581.5,1605.2 592.6,1604.9 603.2,1605.2 C613.8,1605.5 624.3,1606.1 634.9,1606.2 C645.5,1606.3 658.8,1605.4 666.7,1605.6 C674.6,1605.8 674.6,1607.4 682.5,1607.1 C690.4,1606.8 706.3,1604.3 714.3,1604.0 C722.2,1603.7 722.3,1604.5 730.2,1605.2 C738.1,1605.9 753.6,1608.1 761.9,1608.4 C770.2,1608.7 770.9,1607.8 780.0,1606.8 C789.1,1605.8 805.1,1602.9 816.5,1602.4 C827.9,1601.9 838.5,1605.5 848.3,1603.7 C858.1,1602.0 867.0,1595.6 875.2,1591.9 C883.4,1588.2 891.4,1584.1 897.5,1581.4 C903.6,1578.8 906.4,1579.0 911.7,1576.0 C917.0,1573.0 923.4,1566.4 929.2,1563.3 C935.0,1560.2 941.4,1558.3 946.7,1557.6 C952.0,1556.9 956.0,1559.2 961.0,1559.2 C966.0,1559.2 968.9,1556.2 976.8,1557.6 C984.7,1559.0 1000.7,1564.7 1008.6,1567.5 C1016.5,1570.3 1018.6,1571.4 1024.4,1574.4 C1030.2,1577.4 1037.7,1582.5 1043.5,1585.6 C1049.3,1588.7 1053.6,1590.7 1059.4,1592.9 C1065.2,1595.1 1073.1,1597.3 1078.4,1598.9 C1083.7,1600.5 1085.3,1599.1 1091.1,1602.4 C1096.9,1605.7 1106.9,1614.0 1113.3,1618.9 C1119.7,1623.8 1123.9,1627.9 1129.2,1631.6 C1134.5,1635.3 1139.8,1638.2 1145.1,1641.1 C1150.4,1644.0 1153.1,1646.2 1161.0,1649.0 C1168.9,1651.8 1182.1,1655.6 1192.7,1657.9 C1203.3,1660.2 1213.8,1662.1 1224.4,1662.7 C1235.0,1663.3 1245.6,1661.8 1256.2,1661.7 C1266.8,1661.7 1277.3,1662.1 1287.9,1662.4 C1298.5,1662.7 1311.8,1663.0 1319.7,1663.3 C1327.7,1663.6 1330.3,1664.5 1335.6,1664.0 C1340.9,1663.5 1346.1,1662.2 1351.4,1660.2 C1356.7,1658.2 1362.0,1654.6 1367.3,1652.2 C1372.6,1649.8 1377.9,1647.4 1383.2,1645.9 C1388.5,1644.4 1393.7,1644.1 1399.0,1643.3 C1404.3,1642.5 1409.6,1642.3 1414.9,1641.1 C1420.2,1639.9 1425.5,1637.5 1430.8,1636.3 C1436.1,1635.1 1441.4,1634.3 1446.7,1634.1 C1452.0,1633.8 1457.2,1634.4 1462.5,1634.8 C1467.8,1635.2 1473.1,1635.5 1478.4,1636.3 C1483.7,1637.1 1489.0,1638.1 1494.3,1639.5 C1499.6,1640.9 1504.9,1643.1 1510.2,1644.9 C1515.5,1646.8 1520.7,1648.8 1526.0,1650.6 C1531.3,1652.3 1536.6,1654.1 1541.9,1655.4 C1547.2,1656.7 1552.1,1657.8 1557.8,1658.6 C1563.5,1659.4 1567.6,1659.8 1575.9,1660.2 C1584.2,1660.6 1599.7,1661.1 1607.6,1661.1 C1615.5,1661.1 1615.6,1660.2 1623.5,1660.2 C1631.4,1660.2 1644.6,1661.2 1655.2,1660.8 C1665.8,1660.4 1676.4,1658.4 1687.0,1657.9 C1697.6,1657.4 1708.1,1657.3 1718.7,1657.6 C1729.3,1657.9 1742.0,1658.0 1750.5,1659.5 C1759.0,1661.0 1763.7,1663.5 1769.5,1666.5 C1775.3,1669.5 1778.0,1673.7 1785.4,1677.6 C1792.8,1681.5 1805.5,1686.4 1814.0,1689.7 C1822.5,1693.0 1827.2,1696.0 1836.2,1697.6 C1845.2,1699.2 1858.4,1699.6 1867.9,1699.2 C1877.4,1698.8 1883.8,1696.4 1893.3,1695.1 C1902.8,1693.8 1913.4,1692.1 1925.1,1691.3 C1936.8,1690.5 1952.6,1691.5 1963.2,1690.3 C1973.8,1689.1 1977.5,1686.5 1988.6,1684.0 C1999.7,1681.5 2020.3,1676.8 2029.8,1675.1 C2039.3,1673.4 2039.3,1673.8 2045.7,1673.8 C2052.1,1673.8 2058.9,1674.7 2067.9,1675.4 C2076.9,1676.2 2087.5,1677.0 2099.7,1678.3 C2111.9,1679.6 2130.3,1682.5 2140.9,1683.3 C2151.5,1684.1 2155.2,1683.1 2163.2,1683.3 C2171.1,1683.5 2181.2,1684.8 2188.6,1684.6 C2196.0,1684.4 2201.2,1683.6 2207.6,1682.4 C2213.9,1681.2 2218.2,1679.4 2226.7,1677.6 C2235.2,1675.8 2247.8,1672.9 2258.4,1671.3 C2269.0,1669.7 2279.6,1669.2 2290.2,1668.1 C2300.8,1667.0 2310.3,1665.7 2321.9,1664.9 C2333.5,1664.1 2349.8,1663.6 2360.0,1663.5 C2370.2,1663.4 2374.0,1665.0 2383.3,1664.3 C2392.6,1663.6 2407.4,1661.0 2415.8,1659.3 C2424.2,1657.6 2427.9,1655.5 2433.9,1653.9 C2439.9,1652.3 2446.6,1650.9 2452.0,1649.9 C2457.4,1648.9 2461.0,1648.4 2466.4,1648.1 C2471.8,1647.8 2477.9,1648.6 2484.5,1648.1 C2491.1,1647.5 2498.9,1645.8 2506.1,1644.8 C2513.3,1643.8 2519.4,1642.2 2527.8,1642.0 C2536.2,1641.8 2548.3,1643.2 2556.7,1643.8 C2565.1,1644.4 2572.4,1645.0 2578.4,1645.6 C2584.4,1646.2 2584.4,1647.2 2592.8,1647.4 C2601.2,1647.6 2618.1,1647.0 2628.9,1646.6 C2639.7,1646.2 2650.0,1646.6 2657.8,1644.8 C2665.6,1643.0 2668.7,1638.7 2675.9,1635.8 C2683.1,1632.9 2693.9,1630.1 2701.1,1627.5 C2708.3,1624.9 2712.6,1623.2 2719.2,1620.3 C2725.8,1617.4 2731.9,1613.2 2740.9,1610.2 C2749.9,1607.2 2765.0,1603.8 2773.4,1602.2 C2781.8,1600.6 2785.4,1601.3 2791.4,1600.4 C2797.4,1599.5 2804.7,1597.5 2809.5,1596.8 C2814.3,1596.1 2815.5,1595.9 2820.3,1596.1 C2825.1,1596.3 2832.4,1597.0 2838.4,1597.9 C2844.4,1598.8 2851.2,1600.5 2856.4,1601.5 C2861.6,1602.5 2867.6,1603.6 2869.8,1604.0" fill="none" stroke="#2e56d6" stroke-width="2" stroke-linejoin="round"/>
</g>
<text x="36.5" y="1579.2" font-size="23" fill="#131722" text-anchor="start" font-weight="normal" textLength="67" lengthAdjust="spacing">MACD</text>
<text x="121.6" y="1579.2" font-size="23" fill="#b2dfdb" text-anchor="start" font-weight="normal" textLength="135" lengthAdjust="spacing">0.00000001</text>
<text x="272.4" y="1579.2" font-size="23" fill="#2962ff" text-anchor="start" font-weight="normal" textLength="135" lengthAdjust="spacing">0.00000016</text>
<text x="423.8" y="1579.2" font-size="23" fill="#f23645" text-anchor="start" font-weight="normal" textLength="135" lengthAdjust="spacing">0.00000016</text>
<rect x="3051.5" y="1551" width="170.5" height="33.200000000000045" rx="4" fill="#2962ff"/>
<text x="3069.3" y="1576.3" font-size="24" fill="#fff" text-anchor="start" font-weight="normal" textLength="140" lengthAdjust="spacing">0.00000016</text>
<rect x="3051.5" y="1585.3" width="170.5" height="33.200000000000045" rx="4" fill="#f23645"/>
<text x="3069.3" y="1610.6000000000001" font-size="24" fill="#fff" text-anchor="start" font-weight="normal" textLength="140" lengthAdjust="spacing">0.00000016</text>
<rect x="3051.5" y="1620.3" width="170.5" height="32.5" rx="4" fill="#b2dfdb"/>
<text x="3069.3" y="1645.25" font-size="24" fill="#131722" text-anchor="start" font-weight="normal" textLength="140" lengthAdjust="spacing">0.00000001</text>
<text x="105.4" y="1753.5" font-size="24" fill="#131722" text-anchor="middle" font-weight="normal">5</text>
<text x="299.4" y="1753.5" font-size="24" fill="#131722" text-anchor="middle" font-weight="normal">7</text>
<text x="493.4" y="1753.5" font-size="24" fill="#131722" text-anchor="middle" font-weight="normal">9</text>
<text x="687.5" y="1753.5" font-size="24" fill="#131722" text-anchor="middle" font-weight="normal">11</text>
<text x="881.5" y="1753.5" font-size="24" fill="#131722" text-anchor="middle" font-weight="normal">13</text>
<text x="1075.5" y="1753.5" font-size="24" fill="#131722" text-anchor="middle" font-weight="normal">15</text>
<text x="1269.5" y="1753.5" font-size="24" fill="#131722" text-anchor="middle" font-weight="normal">17</text>
<text x="1463.5" y="1753.5" font-size="24" fill="#131722" text-anchor="middle" font-weight="normal">19</text>
<text x="1657.6" y="1753.5" font-size="24" fill="#131722" text-anchor="middle" font-weight="normal">21</text>
<text x="1851.6" y="1753.5" font-size="24" fill="#131722" text-anchor="middle" font-weight="normal">23</text>
<text x="2045.6" y="1753.5" font-size="24" fill="#131722" text-anchor="middle" font-weight="normal">25</text>
<text x="2239.6" y="1753.5" font-size="24" fill="#131722" text-anchor="middle" font-weight="normal">27</text>
<text x="2433.6" y="1753.5" font-size="24" fill="#131722" text-anchor="middle" font-weight="normal">29</text>
<text x="2627.7" y="1753.5" font-size="24" fill="#131722" text-anchor="middle" font-weight="bold">Oct</text>
<text x="2821.7" y="1753.5" font-size="24" fill="#131722" text-anchor="middle" font-weight="normal">3</text>
<text x="3015.7" y="1753.5" font-size="24" fill="#131722" text-anchor="middle" font-weight="normal">5</text>
<g fill="#131722"><path d="M24.2 1816 H47.8 V1845.8 H35.3 V1827.8 H24.2 Z"/><circle cx="58" cy="1821.9" r="5.9"/><path d="M66.7 1816 H83.3 L74.4 1845.8 H58.3 Z"/></g>
<text x="98.6" y="1845.8" font-size="43" fill="#131722" text-anchor="start" font-weight="bold" textLength="240.8" lengthAdjust="spacingAndGlyphs">TradingView</text>
</svg>
</body></html>
